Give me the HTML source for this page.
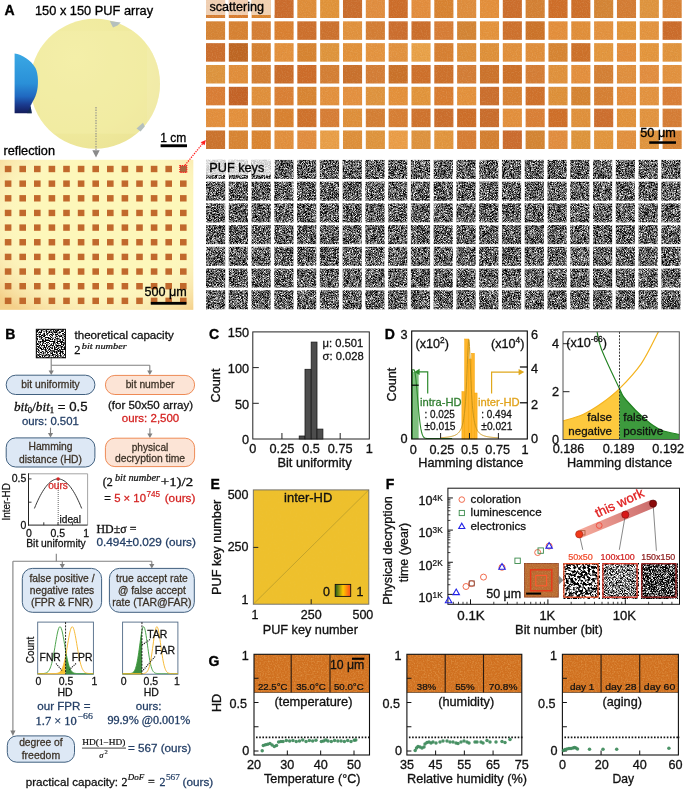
<!DOCTYPE html>
<html><head><meta charset="utf-8"><style>
html,body{margin:0;padding:0;background:#fff;width:685px;height:795px;overflow:hidden}
svg{display:block;will-change:transform}
</style></head><body>
<svg width="685" height="795" viewBox="0 0 685 795" font-family='"Liberation Sans", sans-serif'>
<defs>
<linearGradient id="blueg" x1="0" y1="0" x2="0" y2="1">
<stop offset="0" stop-color="#3aa8e4"/><stop offset="0.5" stop-color="#2a90d8"/><stop offset="0.72" stop-color="#2068c0"/><stop offset="0.86" stop-color="#1a3a8e"/><stop offset="1" stop-color="#141c5a"/></linearGradient>
<clipPath id="blueclip"><rect x="14.6" y="40" width="40" height="90"/></clipPath>
<radialGradient id="waferg" cx="0.35" cy="0.3" r="0.8">
<stop offset="0" stop-color="#f3eea6"/><stop offset="0.7" stop-color="#efe99c"/><stop offset="1" stop-color="#ebe395"/></radialGradient>
<clipPath id="wclip"><circle cx="95" cy="83.8" r="65"/></clipPath>
<radialGradient id="reflv" cx="0.55" cy="0.4" r="0.75">
<stop offset="0.55" stop-color="#fff" stop-opacity="0"/><stop offset="1" stop-color="#e89a48" stop-opacity="0.42"/></radialGradient>
<filter id="onoise" x="0" y="0" width="685" height="160" filterUnits="userSpaceOnUse">
<feTurbulence type="fractalNoise" baseFrequency="0.8" numOctaves="1" seed="4"/>
<feColorMatrix type="matrix" values="0 0 0 0 1  0 0 0 0 0.85  0 0 0 0 0.6  1.2 0 0 0 -0.55"/>
</filter>
<filter id="onoise2" x="0" y="0" width="685" height="160" filterUnits="userSpaceOnUse">
<feTurbulence type="fractalNoise" baseFrequency="0.9" numOctaves="2" seed="8"/>
<feColorMatrix type="matrix" values="0 0 0 0 0.45  0 0 0 0 0.18  0 0 0 0 0.05  -1.3 0 0 0 0.62"/>
</filter>
<clipPath id="oclip"><rect x="206.00" y="-0.50" width="19.1" height="18.5"/><rect x="228.83" y="-0.50" width="19.1" height="18.5"/><rect x="251.66" y="-0.50" width="19.1" height="18.5"/><rect x="274.49" y="-0.50" width="19.1" height="18.5"/><rect x="297.32" y="-0.50" width="19.1" height="18.5"/><rect x="320.15" y="-0.50" width="19.1" height="18.5"/><rect x="342.98" y="-0.50" width="19.1" height="18.5"/><rect x="365.81" y="-0.50" width="19.1" height="18.5"/><rect x="388.64" y="-0.50" width="19.1" height="18.5"/><rect x="411.47" y="-0.50" width="19.1" height="18.5"/><rect x="434.30" y="-0.50" width="19.1" height="18.5"/><rect x="457.13" y="-0.50" width="19.1" height="18.5"/><rect x="479.96" y="-0.50" width="19.1" height="18.5"/><rect x="502.79" y="-0.50" width="19.1" height="18.5"/><rect x="525.62" y="-0.50" width="19.1" height="18.5"/><rect x="548.45" y="-0.50" width="19.1" height="18.5"/><rect x="571.28" y="-0.50" width="19.1" height="18.5"/><rect x="594.11" y="-0.50" width="19.1" height="18.5"/><rect x="616.94" y="-0.50" width="19.1" height="18.5"/><rect x="639.77" y="-0.50" width="19.1" height="18.5"/><rect x="662.60" y="-0.50" width="19.1" height="18.5"/><rect x="206.00" y="21.33" width="19.1" height="18.5"/><rect x="228.83" y="21.33" width="19.1" height="18.5"/><rect x="251.66" y="21.33" width="19.1" height="18.5"/><rect x="274.49" y="21.33" width="19.1" height="18.5"/><rect x="297.32" y="21.33" width="19.1" height="18.5"/><rect x="320.15" y="21.33" width="19.1" height="18.5"/><rect x="342.98" y="21.33" width="19.1" height="18.5"/><rect x="365.81" y="21.33" width="19.1" height="18.5"/><rect x="388.64" y="21.33" width="19.1" height="18.5"/><rect x="411.47" y="21.33" width="19.1" height="18.5"/><rect x="434.30" y="21.33" width="19.1" height="18.5"/><rect x="457.13" y="21.33" width="19.1" height="18.5"/><rect x="479.96" y="21.33" width="19.1" height="18.5"/><rect x="502.79" y="21.33" width="19.1" height="18.5"/><rect x="525.62" y="21.33" width="19.1" height="18.5"/><rect x="548.45" y="21.33" width="19.1" height="18.5"/><rect x="571.28" y="21.33" width="19.1" height="18.5"/><rect x="594.11" y="21.33" width="19.1" height="18.5"/><rect x="616.94" y="21.33" width="19.1" height="18.5"/><rect x="639.77" y="21.33" width="19.1" height="18.5"/><rect x="662.60" y="21.33" width="19.1" height="18.5"/><rect x="206.00" y="43.16" width="19.1" height="18.5"/><rect x="228.83" y="43.16" width="19.1" height="18.5"/><rect x="251.66" y="43.16" width="19.1" height="18.5"/><rect x="274.49" y="43.16" width="19.1" height="18.5"/><rect x="297.32" y="43.16" width="19.1" height="18.5"/><rect x="320.15" y="43.16" width="19.1" height="18.5"/><rect x="342.98" y="43.16" width="19.1" height="18.5"/><rect x="365.81" y="43.16" width="19.1" height="18.5"/><rect x="388.64" y="43.16" width="19.1" height="18.5"/><rect x="411.47" y="43.16" width="19.1" height="18.5"/><rect x="434.30" y="43.16" width="19.1" height="18.5"/><rect x="457.13" y="43.16" width="19.1" height="18.5"/><rect x="479.96" y="43.16" width="19.1" height="18.5"/><rect x="502.79" y="43.16" width="19.1" height="18.5"/><rect x="525.62" y="43.16" width="19.1" height="18.5"/><rect x="548.45" y="43.16" width="19.1" height="18.5"/><rect x="571.28" y="43.16" width="19.1" height="18.5"/><rect x="594.11" y="43.16" width="19.1" height="18.5"/><rect x="616.94" y="43.16" width="19.1" height="18.5"/><rect x="639.77" y="43.16" width="19.1" height="18.5"/><rect x="662.60" y="43.16" width="19.1" height="18.5"/><rect x="206.00" y="64.99" width="19.1" height="18.5"/><rect x="228.83" y="64.99" width="19.1" height="18.5"/><rect x="251.66" y="64.99" width="19.1" height="18.5"/><rect x="274.49" y="64.99" width="19.1" height="18.5"/><rect x="297.32" y="64.99" width="19.1" height="18.5"/><rect x="320.15" y="64.99" width="19.1" height="18.5"/><rect x="342.98" y="64.99" width="19.1" height="18.5"/><rect x="365.81" y="64.99" width="19.1" height="18.5"/><rect x="388.64" y="64.99" width="19.1" height="18.5"/><rect x="411.47" y="64.99" width="19.1" height="18.5"/><rect x="434.30" y="64.99" width="19.1" height="18.5"/><rect x="457.13" y="64.99" width="19.1" height="18.5"/><rect x="479.96" y="64.99" width="19.1" height="18.5"/><rect x="502.79" y="64.99" width="19.1" height="18.5"/><rect x="525.62" y="64.99" width="19.1" height="18.5"/><rect x="548.45" y="64.99" width="19.1" height="18.5"/><rect x="571.28" y="64.99" width="19.1" height="18.5"/><rect x="594.11" y="64.99" width="19.1" height="18.5"/><rect x="616.94" y="64.99" width="19.1" height="18.5"/><rect x="639.77" y="64.99" width="19.1" height="18.5"/><rect x="662.60" y="64.99" width="19.1" height="18.5"/><rect x="206.00" y="86.82" width="19.1" height="18.5"/><rect x="228.83" y="86.82" width="19.1" height="18.5"/><rect x="251.66" y="86.82" width="19.1" height="18.5"/><rect x="274.49" y="86.82" width="19.1" height="18.5"/><rect x="297.32" y="86.82" width="19.1" height="18.5"/><rect x="320.15" y="86.82" width="19.1" height="18.5"/><rect x="342.98" y="86.82" width="19.1" height="18.5"/><rect x="365.81" y="86.82" width="19.1" height="18.5"/><rect x="388.64" y="86.82" width="19.1" height="18.5"/><rect x="411.47" y="86.82" width="19.1" height="18.5"/><rect x="434.30" y="86.82" width="19.1" height="18.5"/><rect x="457.13" y="86.82" width="19.1" height="18.5"/><rect x="479.96" y="86.82" width="19.1" height="18.5"/><rect x="502.79" y="86.82" width="19.1" height="18.5"/><rect x="525.62" y="86.82" width="19.1" height="18.5"/><rect x="548.45" y="86.82" width="19.1" height="18.5"/><rect x="571.28" y="86.82" width="19.1" height="18.5"/><rect x="594.11" y="86.82" width="19.1" height="18.5"/><rect x="616.94" y="86.82" width="19.1" height="18.5"/><rect x="639.77" y="86.82" width="19.1" height="18.5"/><rect x="662.60" y="86.82" width="19.1" height="18.5"/><rect x="206.00" y="108.65" width="19.1" height="18.5"/><rect x="228.83" y="108.65" width="19.1" height="18.5"/><rect x="251.66" y="108.65" width="19.1" height="18.5"/><rect x="274.49" y="108.65" width="19.1" height="18.5"/><rect x="297.32" y="108.65" width="19.1" height="18.5"/><rect x="320.15" y="108.65" width="19.1" height="18.5"/><rect x="342.98" y="108.65" width="19.1" height="18.5"/><rect x="365.81" y="108.65" width="19.1" height="18.5"/><rect x="388.64" y="108.65" width="19.1" height="18.5"/><rect x="411.47" y="108.65" width="19.1" height="18.5"/><rect x="434.30" y="108.65" width="19.1" height="18.5"/><rect x="457.13" y="108.65" width="19.1" height="18.5"/><rect x="479.96" y="108.65" width="19.1" height="18.5"/><rect x="502.79" y="108.65" width="19.1" height="18.5"/><rect x="525.62" y="108.65" width="19.1" height="18.5"/><rect x="548.45" y="108.65" width="19.1" height="18.5"/><rect x="571.28" y="108.65" width="19.1" height="18.5"/><rect x="594.11" y="108.65" width="19.1" height="18.5"/><rect x="616.94" y="108.65" width="19.1" height="18.5"/><rect x="639.77" y="108.65" width="19.1" height="18.5"/><rect x="662.60" y="108.65" width="19.1" height="18.5"/><rect x="206.00" y="130.48" width="19.1" height="18.5"/><rect x="228.83" y="130.48" width="19.1" height="18.5"/><rect x="251.66" y="130.48" width="19.1" height="18.5"/><rect x="274.49" y="130.48" width="19.1" height="18.5"/><rect x="297.32" y="130.48" width="19.1" height="18.5"/><rect x="320.15" y="130.48" width="19.1" height="18.5"/><rect x="342.98" y="130.48" width="19.1" height="18.5"/><rect x="365.81" y="130.48" width="19.1" height="18.5"/><rect x="388.64" y="130.48" width="19.1" height="18.5"/><rect x="411.47" y="130.48" width="19.1" height="18.5"/><rect x="434.30" y="130.48" width="19.1" height="18.5"/><rect x="457.13" y="130.48" width="19.1" height="18.5"/><rect x="479.96" y="130.48" width="19.1" height="18.5"/><rect x="502.79" y="130.48" width="19.1" height="18.5"/><rect x="525.62" y="130.48" width="19.1" height="18.5"/><rect x="548.45" y="130.48" width="19.1" height="18.5"/><rect x="571.28" y="130.48" width="19.1" height="18.5"/><rect x="594.11" y="130.48" width="19.1" height="18.5"/><rect x="616.94" y="130.48" width="19.1" height="18.5"/><rect x="639.77" y="130.48" width="19.1" height="18.5"/><rect x="662.60" y="130.48" width="19.1" height="18.5"/></clipPath>
<clipPath id="pclip"><rect x="206.00" y="159.90" width="19.2" height="19.1"/><rect x="228.76" y="159.90" width="19.2" height="19.1"/><rect x="251.53" y="159.90" width="19.2" height="19.1"/><rect x="274.30" y="159.90" width="19.2" height="19.1"/><rect x="297.06" y="159.90" width="19.2" height="19.1"/><rect x="319.82" y="159.90" width="19.2" height="19.1"/><rect x="342.59" y="159.90" width="19.2" height="19.1"/><rect x="365.36" y="159.90" width="19.2" height="19.1"/><rect x="388.12" y="159.90" width="19.2" height="19.1"/><rect x="410.88" y="159.90" width="19.2" height="19.1"/><rect x="433.65" y="159.90" width="19.2" height="19.1"/><rect x="456.42" y="159.90" width="19.2" height="19.1"/><rect x="479.18" y="159.90" width="19.2" height="19.1"/><rect x="501.94" y="159.90" width="19.2" height="19.1"/><rect x="524.71" y="159.90" width="19.2" height="19.1"/><rect x="547.48" y="159.90" width="19.2" height="19.1"/><rect x="570.24" y="159.90" width="19.2" height="19.1"/><rect x="593.00" y="159.90" width="19.2" height="19.1"/><rect x="615.77" y="159.90" width="19.2" height="19.1"/><rect x="638.54" y="159.90" width="19.2" height="19.1"/><rect x="661.30" y="159.90" width="19.2" height="19.1"/><rect x="206.00" y="181.62" width="19.2" height="19.1"/><rect x="228.76" y="181.62" width="19.2" height="19.1"/><rect x="251.53" y="181.62" width="19.2" height="19.1"/><rect x="274.30" y="181.62" width="19.2" height="19.1"/><rect x="297.06" y="181.62" width="19.2" height="19.1"/><rect x="319.82" y="181.62" width="19.2" height="19.1"/><rect x="342.59" y="181.62" width="19.2" height="19.1"/><rect x="365.36" y="181.62" width="19.2" height="19.1"/><rect x="388.12" y="181.62" width="19.2" height="19.1"/><rect x="410.88" y="181.62" width="19.2" height="19.1"/><rect x="433.65" y="181.62" width="19.2" height="19.1"/><rect x="456.42" y="181.62" width="19.2" height="19.1"/><rect x="479.18" y="181.62" width="19.2" height="19.1"/><rect x="501.94" y="181.62" width="19.2" height="19.1"/><rect x="524.71" y="181.62" width="19.2" height="19.1"/><rect x="547.48" y="181.62" width="19.2" height="19.1"/><rect x="570.24" y="181.62" width="19.2" height="19.1"/><rect x="593.00" y="181.62" width="19.2" height="19.1"/><rect x="615.77" y="181.62" width="19.2" height="19.1"/><rect x="638.54" y="181.62" width="19.2" height="19.1"/><rect x="661.30" y="181.62" width="19.2" height="19.1"/><rect x="206.00" y="203.34" width="19.2" height="19.1"/><rect x="228.76" y="203.34" width="19.2" height="19.1"/><rect x="251.53" y="203.34" width="19.2" height="19.1"/><rect x="274.30" y="203.34" width="19.2" height="19.1"/><rect x="297.06" y="203.34" width="19.2" height="19.1"/><rect x="319.82" y="203.34" width="19.2" height="19.1"/><rect x="342.59" y="203.34" width="19.2" height="19.1"/><rect x="365.36" y="203.34" width="19.2" height="19.1"/><rect x="388.12" y="203.34" width="19.2" height="19.1"/><rect x="410.88" y="203.34" width="19.2" height="19.1"/><rect x="433.65" y="203.34" width="19.2" height="19.1"/><rect x="456.42" y="203.34" width="19.2" height="19.1"/><rect x="479.18" y="203.34" width="19.2" height="19.1"/><rect x="501.94" y="203.34" width="19.2" height="19.1"/><rect x="524.71" y="203.34" width="19.2" height="19.1"/><rect x="547.48" y="203.34" width="19.2" height="19.1"/><rect x="570.24" y="203.34" width="19.2" height="19.1"/><rect x="593.00" y="203.34" width="19.2" height="19.1"/><rect x="615.77" y="203.34" width="19.2" height="19.1"/><rect x="638.54" y="203.34" width="19.2" height="19.1"/><rect x="661.30" y="203.34" width="19.2" height="19.1"/><rect x="206.00" y="225.06" width="19.2" height="19.1"/><rect x="228.76" y="225.06" width="19.2" height="19.1"/><rect x="251.53" y="225.06" width="19.2" height="19.1"/><rect x="274.30" y="225.06" width="19.2" height="19.1"/><rect x="297.06" y="225.06" width="19.2" height="19.1"/><rect x="319.82" y="225.06" width="19.2" height="19.1"/><rect x="342.59" y="225.06" width="19.2" height="19.1"/><rect x="365.36" y="225.06" width="19.2" height="19.1"/><rect x="388.12" y="225.06" width="19.2" height="19.1"/><rect x="410.88" y="225.06" width="19.2" height="19.1"/><rect x="433.65" y="225.06" width="19.2" height="19.1"/><rect x="456.42" y="225.06" width="19.2" height="19.1"/><rect x="479.18" y="225.06" width="19.2" height="19.1"/><rect x="501.94" y="225.06" width="19.2" height="19.1"/><rect x="524.71" y="225.06" width="19.2" height="19.1"/><rect x="547.48" y="225.06" width="19.2" height="19.1"/><rect x="570.24" y="225.06" width="19.2" height="19.1"/><rect x="593.00" y="225.06" width="19.2" height="19.1"/><rect x="615.77" y="225.06" width="19.2" height="19.1"/><rect x="638.54" y="225.06" width="19.2" height="19.1"/><rect x="661.30" y="225.06" width="19.2" height="19.1"/><rect x="206.00" y="246.78" width="19.2" height="19.1"/><rect x="228.76" y="246.78" width="19.2" height="19.1"/><rect x="251.53" y="246.78" width="19.2" height="19.1"/><rect x="274.30" y="246.78" width="19.2" height="19.1"/><rect x="297.06" y="246.78" width="19.2" height="19.1"/><rect x="319.82" y="246.78" width="19.2" height="19.1"/><rect x="342.59" y="246.78" width="19.2" height="19.1"/><rect x="365.36" y="246.78" width="19.2" height="19.1"/><rect x="388.12" y="246.78" width="19.2" height="19.1"/><rect x="410.88" y="246.78" width="19.2" height="19.1"/><rect x="433.65" y="246.78" width="19.2" height="19.1"/><rect x="456.42" y="246.78" width="19.2" height="19.1"/><rect x="479.18" y="246.78" width="19.2" height="19.1"/><rect x="501.94" y="246.78" width="19.2" height="19.1"/><rect x="524.71" y="246.78" width="19.2" height="19.1"/><rect x="547.48" y="246.78" width="19.2" height="19.1"/><rect x="570.24" y="246.78" width="19.2" height="19.1"/><rect x="593.00" y="246.78" width="19.2" height="19.1"/><rect x="615.77" y="246.78" width="19.2" height="19.1"/><rect x="638.54" y="246.78" width="19.2" height="19.1"/><rect x="661.30" y="246.78" width="19.2" height="19.1"/><rect x="206.00" y="268.50" width="19.2" height="19.1"/><rect x="228.76" y="268.50" width="19.2" height="19.1"/><rect x="251.53" y="268.50" width="19.2" height="19.1"/><rect x="274.30" y="268.50" width="19.2" height="19.1"/><rect x="297.06" y="268.50" width="19.2" height="19.1"/><rect x="319.82" y="268.50" width="19.2" height="19.1"/><rect x="342.59" y="268.50" width="19.2" height="19.1"/><rect x="365.36" y="268.50" width="19.2" height="19.1"/><rect x="388.12" y="268.50" width="19.2" height="19.1"/><rect x="410.88" y="268.50" width="19.2" height="19.1"/><rect x="433.65" y="268.50" width="19.2" height="19.1"/><rect x="456.42" y="268.50" width="19.2" height="19.1"/><rect x="479.18" y="268.50" width="19.2" height="19.1"/><rect x="501.94" y="268.50" width="19.2" height="19.1"/><rect x="524.71" y="268.50" width="19.2" height="19.1"/><rect x="547.48" y="268.50" width="19.2" height="19.1"/><rect x="570.24" y="268.50" width="19.2" height="19.1"/><rect x="593.00" y="268.50" width="19.2" height="19.1"/><rect x="615.77" y="268.50" width="19.2" height="19.1"/><rect x="638.54" y="268.50" width="19.2" height="19.1"/><rect x="661.30" y="268.50" width="19.2" height="19.1"/><rect x="206.00" y="290.22" width="19.2" height="19.1"/><rect x="228.76" y="290.22" width="19.2" height="19.1"/><rect x="251.53" y="290.22" width="19.2" height="19.1"/><rect x="274.30" y="290.22" width="19.2" height="19.1"/><rect x="297.06" y="290.22" width="19.2" height="19.1"/><rect x="319.82" y="290.22" width="19.2" height="19.1"/><rect x="342.59" y="290.22" width="19.2" height="19.1"/><rect x="365.36" y="290.22" width="19.2" height="19.1"/><rect x="388.12" y="290.22" width="19.2" height="19.1"/><rect x="410.88" y="290.22" width="19.2" height="19.1"/><rect x="433.65" y="290.22" width="19.2" height="19.1"/><rect x="456.42" y="290.22" width="19.2" height="19.1"/><rect x="479.18" y="290.22" width="19.2" height="19.1"/><rect x="501.94" y="290.22" width="19.2" height="19.1"/><rect x="524.71" y="290.22" width="19.2" height="19.1"/><rect x="547.48" y="290.22" width="19.2" height="19.1"/><rect x="570.24" y="290.22" width="19.2" height="19.1"/><rect x="593.00" y="290.22" width="19.2" height="19.1"/><rect x="615.77" y="290.22" width="19.2" height="19.1"/><rect x="638.54" y="290.22" width="19.2" height="19.1"/><rect x="661.30" y="290.22" width="19.2" height="19.1"/></clipPath>
<filter id="pnoise" x="200" y="155" width="485" height="160" filterUnits="userSpaceOnUse" color-interpolation-filters="sRGB">
<feTurbulence type="fractalNoise" baseFrequency="1.37" numOctaves="2" seed="11"/>
<feColorMatrix type="matrix" values="1 0 0 0 0  1 0 0 0 0  1 0 0 0 0  0 0 0 0 1"/>
<feComponentTransfer><feFuncR type="linear" slope="2.2" intercept="-0.71"/><feFuncG type="linear" slope="2.2" intercept="-0.71"/><feFuncB type="linear" slope="2.2" intercept="-0.71"/></feComponentTransfer>
<feGaussianBlur stdDeviation="0.4"/>
</filter>
<filter id="qnoise" x="36" y="329" width="30" height="29" filterUnits="userSpaceOnUse" color-interpolation-filters="sRGB">
<feTurbulence type="fractalNoise" baseFrequency="0.75" numOctaves="2" seed="5"/>
<feColorMatrix type="matrix" values="1 0 0 0 0  1 0 0 0 0  1 0 0 0 0  0 0 0 0 1"/>
<feComponentTransfer><feFuncR type="linear" slope="6" intercept="-2.6"/><feFuncG type="linear" slope="6" intercept="-2.6"/><feFuncB type="linear" slope="6" intercept="-2.6"/></feComponentTransfer>
<feGaussianBlur stdDeviation="0.3"/>
</filter>
<filter id="hnoise" x="253" y="489" width="117" height="116" filterUnits="userSpaceOnUse">
<feTurbulence type="fractalNoise" baseFrequency="0.5" numOctaves="1" seed="9"/>
<feColorMatrix type="matrix" values="0 0 0 0 0.8  0 0 0 0 0.6  0 0 0 0 0.1  1 0 0 0 -0.45"/>
</filter>
<linearGradient id="cbar" x1="0" y1="0" x2="1" y2="0">
<stop offset="0" stop-color="#1a5a1a"/><stop offset="0.5" stop-color="#ffc800"/><stop offset="1" stop-color="#ff4a1a"/></linearGradient>
<linearGradient id="band" gradientUnits="userSpaceOnUse" x1="579" y1="534" x2="653" y2="503.6">
<stop offset="0" stop-color="#f7a898"/><stop offset="1" stop-color="#c86464"/></linearGradient>
<filter id="inoise" x="524" y="563" width="35" height="35" filterUnits="userSpaceOnUse">
<feTurbulence type="fractalNoise" baseFrequency="0.8" numOctaves="1" seed="2"/>
<feColorMatrix type="matrix" values="0 0 0 0 0.95  0 0 0 0 0.7  0 0 0 0 0.4  1.4 0 0 0 -0.6"/>
</filter>
<filter id="fn21" x="563.3" y="563" width="36" height="36" filterUnits="userSpaceOnUse" color-interpolation-filters="sRGB">
<feTurbulence type="fractalNoise" baseFrequency="0.42" numOctaves="2" seed="21"/>
<feColorMatrix type="matrix" values="1 0 0 0 0  1 0 0 0 0  1 0 0 0 0  0 0 0 0 1"/>
<feComponentTransfer><feFuncR type="linear" slope="6" intercept="-2.55"/><feFuncG type="linear" slope="6" intercept="-2.55"/><feFuncB type="linear" slope="6" intercept="-2.55"/></feComponentTransfer>
</filter>
<filter id="fn22" x="602.3" y="563" width="36" height="36" filterUnits="userSpaceOnUse" color-interpolation-filters="sRGB">
<feTurbulence type="fractalNoise" baseFrequency="1.37" numOctaves="2" seed="22"/>
<feColorMatrix type="matrix" values="1 0 0 0 0  1 0 0 0 0  1 0 0 0 0  0 0 0 0 1"/>
<feComponentTransfer><feFuncR type="linear" slope="3.4" intercept="-1.15"/><feFuncG type="linear" slope="3.4" intercept="-1.15"/><feFuncB type="linear" slope="3.4" intercept="-1.15"/></feComponentTransfer>
</filter>
<filter id="fn23" x="641.2" y="563" width="36" height="36" filterUnits="userSpaceOnUse" color-interpolation-filters="sRGB">
<feTurbulence type="fractalNoise" baseFrequency="1.37" numOctaves="2" seed="23"/>
<feColorMatrix type="matrix" values="1 0 0 0 0  1 0 0 0 0  1 0 0 0 0  0 0 0 0 1"/>
<feComponentTransfer><feFuncR type="linear" slope="3.4" intercept="-1.45"/><feFuncG type="linear" slope="3.4" intercept="-1.45"/><feFuncB type="linear" slope="3.4" intercept="-1.45"/></feComponentTransfer>
</filter>
<filter id="gnoise" x="0" y="0" width="1" height="1">
<feTurbulence type="fractalNoise" baseFrequency="0.7" numOctaves="2" seed="13"/>
<feColorMatrix type="matrix" values="0 0 0 0 0.98  0 0 0 0 0.62  0 0 0 0 0.25  1.6 0 0 0 -0.66"/>
</filter>
<filter id="gnoise2" x="0" y="0" width="1" height="1">
<feTurbulence type="fractalNoise" baseFrequency="0.6" numOctaves="2" seed="17"/>
<feColorMatrix type="matrix" values="0 0 0 0 0.5  0 0 0 0 0.2  0 0 0 0 0.04  -1.6 0 0 0 0.66"/>
</filter>
</defs>
<text x="4.4" y="15.3" font-size="14" fill="#000" font-weight="bold"  stroke="#000" stroke-width="0.35">A</text>
<text x="35" y="14.9" font-size="12.8" fill="#000"  stroke="#000" stroke-width="0.32">150 x 150 PUF array</text>
<circle cx="95" cy="83.8" r="65" fill="url(#waferg)"/>
<rect x="39.7" y="30.8" width="107.3" height="103" fill="#f4efac" opacity="0.4" clip-path="url(#wclip)"/>
<rect x="147" y="15" width="20" height="140" fill="#f7f3be" opacity="0.4" clip-path="url(#wclip)"/>
<path d="M14.6 53.4 C22 54.5 31 60 35.5 68 C38.5 74 38.8 86 36.5 93 C35 98 32.5 102 30.5 105.5 L31.8 113.2 L14.6 113.2 Z" fill="url(#blueg)"/>
<path d="M36.5 93 C35 98 32.5 102 30.5 105.5 L31.8 113.2 L27 113.2 C30 108 33 101 36.5 93 Z" fill="#10304a" opacity="0.6"/>
<path d="M109.8 21.0 L120.7 22.6 L117.5 25.5 L113.0 27.5 Z" fill="#b5c0bd" stroke="none" stroke-width="1" />
<path d="M136.5 128.5 L143.0 122.8 L144.8 126.5 L140.5 131.5 Z" fill="#b5c0bd" stroke="none" stroke-width="1" />
<text x="160.2" y="141.5" font-size="12" fill="#000"  stroke="#000" stroke-width="0.30">1 cm</text>
<rect x="160.60" y="144.30" width="26.40" height="2.90" fill="#000" stroke="none" stroke-width="1" />
<text x="3.5" y="155.4" font-size="12.7" fill="#000"  stroke="#000" stroke-width="0.32">reflection</text>
<line x1="96.00" y1="107.00" x2="96.00" y2="151.00" stroke="#8a8a8a" stroke-width="1.1" stroke-dasharray="1.4 1.2"/>
<path d="M92.3 150.3 L99.7 150.3 L96 157.5 Z" fill="#8a8a8a" stroke="none" stroke-width="1" />
<rect x="0.00" y="159.80" width="193.30" height="150.00" fill="#fdf7ba" stroke="none" stroke-width="1" />
<rect x="0.00" y="159.80" width="193.30" height="150.00" fill="url(#reflv)" stroke="none" stroke-width="1" />
<rect x="4.80" y="165.80" width="6.60" height="6.40" fill="#c1692c" stroke="none" stroke-width="1" />
<rect x="19.40" y="165.80" width="6.60" height="6.40" fill="#c1692c" stroke="none" stroke-width="1" />
<rect x="34.00" y="165.80" width="6.60" height="6.40" fill="#c1692c" stroke="none" stroke-width="1" />
<rect x="48.60" y="165.80" width="6.60" height="6.40" fill="#c1692c" stroke="none" stroke-width="1" />
<rect x="63.20" y="165.80" width="6.60" height="6.40" fill="#c1692c" stroke="none" stroke-width="1" />
<rect x="77.80" y="165.80" width="6.60" height="6.40" fill="#c1692c" stroke="none" stroke-width="1" />
<rect x="92.40" y="165.80" width="6.60" height="6.40" fill="#c1692c" stroke="none" stroke-width="1" />
<rect x="107.00" y="165.80" width="6.60" height="6.40" fill="#c1692c" stroke="none" stroke-width="1" />
<rect x="121.60" y="165.80" width="6.60" height="6.40" fill="#c1692c" stroke="none" stroke-width="1" />
<rect x="136.20" y="165.80" width="6.60" height="6.40" fill="#c1692c" stroke="none" stroke-width="1" />
<rect x="150.80" y="165.80" width="6.60" height="6.40" fill="#c1692c" stroke="none" stroke-width="1" />
<rect x="165.40" y="165.80" width="6.60" height="6.40" fill="#c1692c" stroke="none" stroke-width="1" />
<rect x="180.00" y="165.80" width="6.60" height="6.40" fill="#c1692c" stroke="none" stroke-width="1" />
<rect x="4.80" y="180.45" width="6.60" height="6.40" fill="#c1692c" stroke="none" stroke-width="1" />
<rect x="19.40" y="180.45" width="6.60" height="6.40" fill="#c1692c" stroke="none" stroke-width="1" />
<rect x="34.00" y="180.45" width="6.60" height="6.40" fill="#c1692c" stroke="none" stroke-width="1" />
<rect x="48.60" y="180.45" width="6.60" height="6.40" fill="#c1692c" stroke="none" stroke-width="1" />
<rect x="63.20" y="180.45" width="6.60" height="6.40" fill="#c1692c" stroke="none" stroke-width="1" />
<rect x="77.80" y="180.45" width="6.60" height="6.40" fill="#c1692c" stroke="none" stroke-width="1" />
<rect x="92.40" y="180.45" width="6.60" height="6.40" fill="#c1692c" stroke="none" stroke-width="1" />
<rect x="107.00" y="180.45" width="6.60" height="6.40" fill="#c1692c" stroke="none" stroke-width="1" />
<rect x="121.60" y="180.45" width="6.60" height="6.40" fill="#c1692c" stroke="none" stroke-width="1" />
<rect x="136.20" y="180.45" width="6.60" height="6.40" fill="#c1692c" stroke="none" stroke-width="1" />
<rect x="150.80" y="180.45" width="6.60" height="6.40" fill="#c1692c" stroke="none" stroke-width="1" />
<rect x="165.40" y="180.45" width="6.60" height="6.40" fill="#c1692c" stroke="none" stroke-width="1" />
<rect x="180.00" y="180.45" width="6.60" height="6.40" fill="#c1692c" stroke="none" stroke-width="1" />
<rect x="4.80" y="195.10" width="6.60" height="6.40" fill="#c1692c" stroke="none" stroke-width="1" />
<rect x="19.40" y="195.10" width="6.60" height="6.40" fill="#c1692c" stroke="none" stroke-width="1" />
<rect x="34.00" y="195.10" width="6.60" height="6.40" fill="#c1692c" stroke="none" stroke-width="1" />
<rect x="48.60" y="195.10" width="6.60" height="6.40" fill="#c1692c" stroke="none" stroke-width="1" />
<rect x="63.20" y="195.10" width="6.60" height="6.40" fill="#c1692c" stroke="none" stroke-width="1" />
<rect x="77.80" y="195.10" width="6.60" height="6.40" fill="#c1692c" stroke="none" stroke-width="1" />
<rect x="92.40" y="195.10" width="6.60" height="6.40" fill="#c1692c" stroke="none" stroke-width="1" />
<rect x="107.00" y="195.10" width="6.60" height="6.40" fill="#c1692c" stroke="none" stroke-width="1" />
<rect x="121.60" y="195.10" width="6.60" height="6.40" fill="#c1692c" stroke="none" stroke-width="1" />
<rect x="136.20" y="195.10" width="6.60" height="6.40" fill="#c1692c" stroke="none" stroke-width="1" />
<rect x="150.80" y="195.10" width="6.60" height="6.40" fill="#c1692c" stroke="none" stroke-width="1" />
<rect x="165.40" y="195.10" width="6.60" height="6.40" fill="#c1692c" stroke="none" stroke-width="1" />
<rect x="180.00" y="195.10" width="6.60" height="6.40" fill="#c1692c" stroke="none" stroke-width="1" />
<rect x="4.80" y="209.75" width="6.60" height="6.40" fill="#c1692c" stroke="none" stroke-width="1" />
<rect x="19.40" y="209.75" width="6.60" height="6.40" fill="#c1692c" stroke="none" stroke-width="1" />
<rect x="34.00" y="209.75" width="6.60" height="6.40" fill="#c1692c" stroke="none" stroke-width="1" />
<rect x="48.60" y="209.75" width="6.60" height="6.40" fill="#c1692c" stroke="none" stroke-width="1" />
<rect x="63.20" y="209.75" width="6.60" height="6.40" fill="#c1692c" stroke="none" stroke-width="1" />
<rect x="77.80" y="209.75" width="6.60" height="6.40" fill="#c1692c" stroke="none" stroke-width="1" />
<rect x="92.40" y="209.75" width="6.60" height="6.40" fill="#c1692c" stroke="none" stroke-width="1" />
<rect x="107.00" y="209.75" width="6.60" height="6.40" fill="#c1692c" stroke="none" stroke-width="1" />
<rect x="121.60" y="209.75" width="6.60" height="6.40" fill="#c1692c" stroke="none" stroke-width="1" />
<rect x="136.20" y="209.75" width="6.60" height="6.40" fill="#c1692c" stroke="none" stroke-width="1" />
<rect x="150.80" y="209.75" width="6.60" height="6.40" fill="#c1692c" stroke="none" stroke-width="1" />
<rect x="165.40" y="209.75" width="6.60" height="6.40" fill="#c1692c" stroke="none" stroke-width="1" />
<rect x="180.00" y="209.75" width="6.60" height="6.40" fill="#c1692c" stroke="none" stroke-width="1" />
<rect x="4.80" y="224.40" width="6.60" height="6.40" fill="#c1692c" stroke="none" stroke-width="1" />
<rect x="19.40" y="224.40" width="6.60" height="6.40" fill="#c1692c" stroke="none" stroke-width="1" />
<rect x="34.00" y="224.40" width="6.60" height="6.40" fill="#c1692c" stroke="none" stroke-width="1" />
<rect x="48.60" y="224.40" width="6.60" height="6.40" fill="#c1692c" stroke="none" stroke-width="1" />
<rect x="63.20" y="224.40" width="6.60" height="6.40" fill="#c1692c" stroke="none" stroke-width="1" />
<rect x="77.80" y="224.40" width="6.60" height="6.40" fill="#c1692c" stroke="none" stroke-width="1" />
<rect x="92.40" y="224.40" width="6.60" height="6.40" fill="#c1692c" stroke="none" stroke-width="1" />
<rect x="107.00" y="224.40" width="6.60" height="6.40" fill="#c1692c" stroke="none" stroke-width="1" />
<rect x="121.60" y="224.40" width="6.60" height="6.40" fill="#c1692c" stroke="none" stroke-width="1" />
<rect x="136.20" y="224.40" width="6.60" height="6.40" fill="#c1692c" stroke="none" stroke-width="1" />
<rect x="150.80" y="224.40" width="6.60" height="6.40" fill="#c1692c" stroke="none" stroke-width="1" />
<rect x="165.40" y="224.40" width="6.60" height="6.40" fill="#c1692c" stroke="none" stroke-width="1" />
<rect x="180.00" y="224.40" width="6.60" height="6.40" fill="#c1692c" stroke="none" stroke-width="1" />
<rect x="4.80" y="239.05" width="6.60" height="6.40" fill="#c1692c" stroke="none" stroke-width="1" />
<rect x="19.40" y="239.05" width="6.60" height="6.40" fill="#c1692c" stroke="none" stroke-width="1" />
<rect x="34.00" y="239.05" width="6.60" height="6.40" fill="#c1692c" stroke="none" stroke-width="1" />
<rect x="48.60" y="239.05" width="6.60" height="6.40" fill="#c1692c" stroke="none" stroke-width="1" />
<rect x="63.20" y="239.05" width="6.60" height="6.40" fill="#c1692c" stroke="none" stroke-width="1" />
<rect x="77.80" y="239.05" width="6.60" height="6.40" fill="#c1692c" stroke="none" stroke-width="1" />
<rect x="92.40" y="239.05" width="6.60" height="6.40" fill="#c1692c" stroke="none" stroke-width="1" />
<rect x="107.00" y="239.05" width="6.60" height="6.40" fill="#c1692c" stroke="none" stroke-width="1" />
<rect x="121.60" y="239.05" width="6.60" height="6.40" fill="#c1692c" stroke="none" stroke-width="1" />
<rect x="136.20" y="239.05" width="6.60" height="6.40" fill="#c1692c" stroke="none" stroke-width="1" />
<rect x="150.80" y="239.05" width="6.60" height="6.40" fill="#c1692c" stroke="none" stroke-width="1" />
<rect x="165.40" y="239.05" width="6.60" height="6.40" fill="#c1692c" stroke="none" stroke-width="1" />
<rect x="180.00" y="239.05" width="6.60" height="6.40" fill="#c1692c" stroke="none" stroke-width="1" />
<rect x="4.80" y="253.70" width="6.60" height="6.40" fill="#c1692c" stroke="none" stroke-width="1" />
<rect x="19.40" y="253.70" width="6.60" height="6.40" fill="#c1692c" stroke="none" stroke-width="1" />
<rect x="34.00" y="253.70" width="6.60" height="6.40" fill="#c1692c" stroke="none" stroke-width="1" />
<rect x="48.60" y="253.70" width="6.60" height="6.40" fill="#c1692c" stroke="none" stroke-width="1" />
<rect x="63.20" y="253.70" width="6.60" height="6.40" fill="#c1692c" stroke="none" stroke-width="1" />
<rect x="77.80" y="253.70" width="6.60" height="6.40" fill="#c1692c" stroke="none" stroke-width="1" />
<rect x="92.40" y="253.70" width="6.60" height="6.40" fill="#c1692c" stroke="none" stroke-width="1" />
<rect x="107.00" y="253.70" width="6.60" height="6.40" fill="#c1692c" stroke="none" stroke-width="1" />
<rect x="121.60" y="253.70" width="6.60" height="6.40" fill="#c1692c" stroke="none" stroke-width="1" />
<rect x="136.20" y="253.70" width="6.60" height="6.40" fill="#c1692c" stroke="none" stroke-width="1" />
<rect x="150.80" y="253.70" width="6.60" height="6.40" fill="#c1692c" stroke="none" stroke-width="1" />
<rect x="165.40" y="253.70" width="6.60" height="6.40" fill="#c1692c" stroke="none" stroke-width="1" />
<rect x="180.00" y="253.70" width="6.60" height="6.40" fill="#c1692c" stroke="none" stroke-width="1" />
<rect x="4.80" y="268.35" width="6.60" height="6.40" fill="#c1692c" stroke="none" stroke-width="1" />
<rect x="19.40" y="268.35" width="6.60" height="6.40" fill="#c1692c" stroke="none" stroke-width="1" />
<rect x="34.00" y="268.35" width="6.60" height="6.40" fill="#c1692c" stroke="none" stroke-width="1" />
<rect x="48.60" y="268.35" width="6.60" height="6.40" fill="#c1692c" stroke="none" stroke-width="1" />
<rect x="63.20" y="268.35" width="6.60" height="6.40" fill="#c1692c" stroke="none" stroke-width="1" />
<rect x="77.80" y="268.35" width="6.60" height="6.40" fill="#c1692c" stroke="none" stroke-width="1" />
<rect x="92.40" y="268.35" width="6.60" height="6.40" fill="#c1692c" stroke="none" stroke-width="1" />
<rect x="107.00" y="268.35" width="6.60" height="6.40" fill="#c1692c" stroke="none" stroke-width="1" />
<rect x="121.60" y="268.35" width="6.60" height="6.40" fill="#c1692c" stroke="none" stroke-width="1" />
<rect x="136.20" y="268.35" width="6.60" height="6.40" fill="#c1692c" stroke="none" stroke-width="1" />
<rect x="150.80" y="268.35" width="6.60" height="6.40" fill="#c1692c" stroke="none" stroke-width="1" />
<rect x="165.40" y="268.35" width="6.60" height="6.40" fill="#c1692c" stroke="none" stroke-width="1" />
<rect x="180.00" y="268.35" width="6.60" height="6.40" fill="#c1692c" stroke="none" stroke-width="1" />
<rect x="4.80" y="283.00" width="6.60" height="6.40" fill="#c1692c" stroke="none" stroke-width="1" />
<rect x="19.40" y="283.00" width="6.60" height="6.40" fill="#c1692c" stroke="none" stroke-width="1" />
<rect x="34.00" y="283.00" width="6.60" height="6.40" fill="#c1692c" stroke="none" stroke-width="1" />
<rect x="48.60" y="283.00" width="6.60" height="6.40" fill="#c1692c" stroke="none" stroke-width="1" />
<rect x="63.20" y="283.00" width="6.60" height="6.40" fill="#c1692c" stroke="none" stroke-width="1" />
<rect x="77.80" y="283.00" width="6.60" height="6.40" fill="#c1692c" stroke="none" stroke-width="1" />
<rect x="92.40" y="283.00" width="6.60" height="6.40" fill="#c1692c" stroke="none" stroke-width="1" />
<rect x="107.00" y="283.00" width="6.60" height="6.40" fill="#c1692c" stroke="none" stroke-width="1" />
<rect x="121.60" y="283.00" width="6.60" height="6.40" fill="#c1692c" stroke="none" stroke-width="1" />
<rect x="136.20" y="283.00" width="6.60" height="6.40" fill="#c1692c" stroke="none" stroke-width="1" />
<rect x="150.80" y="283.00" width="6.60" height="6.40" fill="#c1692c" stroke="none" stroke-width="1" />
<rect x="165.40" y="283.00" width="6.60" height="6.40" fill="#c1692c" stroke="none" stroke-width="1" />
<rect x="180.00" y="283.00" width="6.60" height="6.40" fill="#c1692c" stroke="none" stroke-width="1" />
<rect x="4.80" y="297.65" width="6.60" height="6.40" fill="#c1692c" stroke="none" stroke-width="1" />
<rect x="19.40" y="297.65" width="6.60" height="6.40" fill="#c1692c" stroke="none" stroke-width="1" />
<rect x="34.00" y="297.65" width="6.60" height="6.40" fill="#c1692c" stroke="none" stroke-width="1" />
<rect x="48.60" y="297.65" width="6.60" height="6.40" fill="#c1692c" stroke="none" stroke-width="1" />
<rect x="63.20" y="297.65" width="6.60" height="6.40" fill="#c1692c" stroke="none" stroke-width="1" />
<rect x="77.80" y="297.65" width="6.60" height="6.40" fill="#c1692c" stroke="none" stroke-width="1" />
<rect x="92.40" y="297.65" width="6.60" height="6.40" fill="#c1692c" stroke="none" stroke-width="1" />
<rect x="107.00" y="297.65" width="6.60" height="6.40" fill="#c1692c" stroke="none" stroke-width="1" />
<rect x="121.60" y="297.65" width="6.60" height="6.40" fill="#c1692c" stroke="none" stroke-width="1" />
<rect x="136.20" y="297.65" width="6.60" height="6.40" fill="#c1692c" stroke="none" stroke-width="1" />
<rect x="150.80" y="297.65" width="6.60" height="6.40" fill="#c1692c" stroke="none" stroke-width="1" />
<rect x="165.40" y="297.65" width="6.60" height="6.40" fill="#c1692c" stroke="none" stroke-width="1" />
<rect x="180.00" y="297.65" width="6.60" height="6.40" fill="#c1692c" stroke="none" stroke-width="1" />
<rect x="180.00" y="165.80" width="6.60" height="6.40" fill="#a8683e" stroke="none" stroke-width="1" />
<rect x="179.80" y="165.60" width="7.00" height="6.80" fill="none" stroke="#ff1a1a" stroke-width="1.1" stroke-dasharray="1.2 0.9"/>
<text x="144.5" y="296.3" font-size="12.6" fill="#000"  stroke="#000" stroke-width="0.32">500 μm</text>
<rect x="150.80" y="301.90" width="35.60" height="2.80" fill="#000" stroke="none" stroke-width="1" />
<rect x="206.00" y="-0.50" width="19.10" height="18.50" fill="rgb(213,126,51)" stroke="none" stroke-width="1" />
<rect x="228.83" y="-0.50" width="19.10" height="18.50" fill="rgb(216,124,48)" stroke="none" stroke-width="1" />
<rect x="251.66" y="-0.50" width="19.10" height="18.50" fill="rgb(217,132,48)" stroke="none" stroke-width="1" />
<rect x="274.49" y="-0.50" width="19.10" height="18.50" fill="rgb(202,107,44)" stroke="none" stroke-width="1" />
<rect x="297.32" y="-0.50" width="19.10" height="18.50" fill="rgb(222,141,57)" stroke="none" stroke-width="1" />
<rect x="320.15" y="-0.50" width="19.10" height="18.50" fill="rgb(224,147,57)" stroke="none" stroke-width="1" />
<rect x="342.98" y="-0.50" width="19.10" height="18.50" fill="rgb(201,108,44)" stroke="none" stroke-width="1" />
<rect x="365.81" y="-0.50" width="19.10" height="18.50" fill="rgb(224,141,63)" stroke="none" stroke-width="1" />
<rect x="388.64" y="-0.50" width="19.10" height="18.50" fill="rgb(204,108,41)" stroke="none" stroke-width="1" />
<rect x="411.47" y="-0.50" width="19.10" height="18.50" fill="rgb(226,141,61)" stroke="none" stroke-width="1" />
<rect x="434.30" y="-0.50" width="19.10" height="18.50" fill="rgb(215,130,48)" stroke="none" stroke-width="1" />
<rect x="457.13" y="-0.50" width="19.10" height="18.50" fill="rgb(222,141,61)" stroke="none" stroke-width="1" />
<rect x="479.96" y="-0.50" width="19.10" height="18.50" fill="rgb(227,143,59)" stroke="none" stroke-width="1" />
<rect x="502.79" y="-0.50" width="19.10" height="18.50" fill="rgb(203,109,44)" stroke="none" stroke-width="1" />
<rect x="525.62" y="-0.50" width="19.10" height="18.50" fill="rgb(211,128,52)" stroke="none" stroke-width="1" />
<rect x="548.45" y="-0.50" width="19.10" height="18.50" fill="rgb(206,109,40)" stroke="none" stroke-width="1" />
<rect x="571.28" y="-0.50" width="19.10" height="18.50" fill="rgb(204,110,42)" stroke="none" stroke-width="1" />
<rect x="594.11" y="-0.50" width="19.10" height="18.50" fill="rgb(211,132,53)" stroke="none" stroke-width="1" />
<rect x="616.94" y="-0.50" width="19.10" height="18.50" fill="rgb(211,124,52)" stroke="none" stroke-width="1" />
<rect x="639.77" y="-0.50" width="19.10" height="18.50" fill="rgb(222,148,62)" stroke="none" stroke-width="1" />
<rect x="662.60" y="-0.50" width="19.10" height="18.50" fill="rgb(215,130,54)" stroke="none" stroke-width="1" />
<rect x="206.00" y="21.33" width="19.10" height="18.50" fill="rgb(213,131,52)" stroke="none" stroke-width="1" />
<rect x="228.83" y="21.33" width="19.10" height="18.50" fill="rgb(214,129,50)" stroke="none" stroke-width="1" />
<rect x="251.66" y="21.33" width="19.10" height="18.50" fill="rgb(212,126,53)" stroke="none" stroke-width="1" />
<rect x="274.49" y="21.33" width="19.10" height="18.50" fill="rgb(217,127,48)" stroke="none" stroke-width="1" />
<rect x="297.32" y="21.33" width="19.10" height="18.50" fill="rgb(204,111,44)" stroke="none" stroke-width="1" />
<rect x="320.15" y="21.33" width="19.10" height="18.50" fill="rgb(203,112,45)" stroke="none" stroke-width="1" />
<rect x="342.98" y="21.33" width="19.10" height="18.50" fill="rgb(224,145,61)" stroke="none" stroke-width="1" />
<rect x="365.81" y="21.33" width="19.10" height="18.50" fill="rgb(211,125,52)" stroke="none" stroke-width="1" />
<rect x="388.64" y="21.33" width="19.10" height="18.50" fill="rgb(203,109,46)" stroke="none" stroke-width="1" />
<rect x="411.47" y="21.33" width="19.10" height="18.50" fill="rgb(202,109,43)" stroke="none" stroke-width="1" />
<rect x="434.30" y="21.33" width="19.10" height="18.50" fill="rgb(214,124,53)" stroke="none" stroke-width="1" />
<rect x="457.13" y="21.33" width="19.10" height="18.50" fill="rgb(211,132,52)" stroke="none" stroke-width="1" />
<rect x="479.96" y="21.33" width="19.10" height="18.50" fill="rgb(227,146,59)" stroke="none" stroke-width="1" />
<rect x="502.79" y="21.33" width="19.10" height="18.50" fill="rgb(205,112,44)" stroke="none" stroke-width="1" />
<rect x="525.62" y="21.33" width="19.10" height="18.50" fill="rgb(203,114,40)" stroke="none" stroke-width="1" />
<rect x="548.45" y="21.33" width="19.10" height="18.50" fill="rgb(227,142,59)" stroke="none" stroke-width="1" />
<rect x="571.28" y="21.33" width="19.10" height="18.50" fill="rgb(224,142,57)" stroke="none" stroke-width="1" />
<rect x="594.11" y="21.33" width="19.10" height="18.50" fill="rgb(226,145,62)" stroke="none" stroke-width="1" />
<rect x="616.94" y="21.33" width="19.10" height="18.50" fill="rgb(225,148,59)" stroke="none" stroke-width="1" />
<rect x="639.77" y="21.33" width="19.10" height="18.50" fill="rgb(226,147,62)" stroke="none" stroke-width="1" />
<rect x="662.60" y="21.33" width="19.10" height="18.50" fill="rgb(202,107,43)" stroke="none" stroke-width="1" />
<rect x="206.00" y="43.16" width="19.10" height="18.50" fill="rgb(202,109,44)" stroke="none" stroke-width="1" />
<rect x="228.83" y="43.16" width="19.10" height="18.50" fill="rgb(189,101,34)" stroke="none" stroke-width="1" />
<rect x="251.66" y="43.16" width="19.10" height="18.50" fill="rgb(212,128,49)" stroke="none" stroke-width="1" />
<rect x="274.49" y="43.16" width="19.10" height="18.50" fill="rgb(226,144,60)" stroke="none" stroke-width="1" />
<rect x="297.32" y="43.16" width="19.10" height="18.50" fill="rgb(214,131,48)" stroke="none" stroke-width="1" />
<rect x="320.15" y="43.16" width="19.10" height="18.50" fill="rgb(222,148,60)" stroke="none" stroke-width="1" />
<rect x="342.98" y="43.16" width="19.10" height="18.50" fill="rgb(225,145,58)" stroke="none" stroke-width="1" />
<rect x="365.81" y="43.16" width="19.10" height="18.50" fill="rgb(227,147,63)" stroke="none" stroke-width="1" />
<rect x="388.64" y="43.16" width="19.10" height="18.50" fill="rgb(225,145,62)" stroke="none" stroke-width="1" />
<rect x="411.47" y="43.16" width="19.10" height="18.50" fill="rgb(232,161,72)" stroke="none" stroke-width="1" />
<rect x="434.30" y="43.16" width="19.10" height="18.50" fill="rgb(214,127,49)" stroke="none" stroke-width="1" />
<rect x="457.13" y="43.16" width="19.10" height="18.50" fill="rgb(221,143,58)" stroke="none" stroke-width="1" />
<rect x="479.96" y="43.16" width="19.10" height="18.50" fill="rgb(222,144,57)" stroke="none" stroke-width="1" />
<rect x="502.79" y="43.16" width="19.10" height="18.50" fill="rgb(224,143,59)" stroke="none" stroke-width="1" />
<rect x="525.62" y="43.16" width="19.10" height="18.50" fill="rgb(223,141,58)" stroke="none" stroke-width="1" />
<rect x="548.45" y="43.16" width="19.10" height="18.50" fill="rgb(214,132,50)" stroke="none" stroke-width="1" />
<rect x="571.28" y="43.16" width="19.10" height="18.50" fill="rgb(204,112,41)" stroke="none" stroke-width="1" />
<rect x="594.11" y="43.16" width="19.10" height="18.50" fill="rgb(226,149,61)" stroke="none" stroke-width="1" />
<rect x="616.94" y="43.16" width="19.10" height="18.50" fill="rgb(226,141,60)" stroke="none" stroke-width="1" />
<rect x="639.77" y="43.16" width="19.10" height="18.50" fill="rgb(227,149,60)" stroke="none" stroke-width="1" />
<rect x="662.60" y="43.16" width="19.10" height="18.50" fill="rgb(224,147,60)" stroke="none" stroke-width="1" />
<rect x="206.00" y="64.99" width="19.10" height="18.50" fill="rgb(221,148,62)" stroke="none" stroke-width="1" />
<rect x="228.83" y="64.99" width="19.10" height="18.50" fill="rgb(224,141,58)" stroke="none" stroke-width="1" />
<rect x="251.66" y="64.99" width="19.10" height="18.50" fill="rgb(211,127,51)" stroke="none" stroke-width="1" />
<rect x="274.49" y="64.99" width="19.10" height="18.50" fill="rgb(201,108,42)" stroke="none" stroke-width="1" />
<rect x="297.32" y="64.99" width="19.10" height="18.50" fill="rgb(204,107,40)" stroke="none" stroke-width="1" />
<rect x="320.15" y="64.99" width="19.10" height="18.50" fill="rgb(211,126,52)" stroke="none" stroke-width="1" />
<rect x="342.98" y="64.99" width="19.10" height="18.50" fill="rgb(200,112,44)" stroke="none" stroke-width="1" />
<rect x="365.81" y="64.99" width="19.10" height="18.50" fill="rgb(211,125,54)" stroke="none" stroke-width="1" />
<rect x="388.64" y="64.99" width="19.10" height="18.50" fill="rgb(201,113,41)" stroke="none" stroke-width="1" />
<rect x="411.47" y="64.99" width="19.10" height="18.50" fill="rgb(205,111,42)" stroke="none" stroke-width="1" />
<rect x="434.30" y="64.99" width="19.10" height="18.50" fill="rgb(204,112,43)" stroke="none" stroke-width="1" />
<rect x="457.13" y="64.99" width="19.10" height="18.50" fill="rgb(211,125,54)" stroke="none" stroke-width="1" />
<rect x="479.96" y="64.99" width="19.10" height="18.50" fill="rgb(203,114,43)" stroke="none" stroke-width="1" />
<rect x="502.79" y="64.99" width="19.10" height="18.50" fill="rgb(203,111,40)" stroke="none" stroke-width="1" />
<rect x="525.62" y="64.99" width="19.10" height="18.50" fill="rgb(212,125,53)" stroke="none" stroke-width="1" />
<rect x="548.45" y="64.99" width="19.10" height="18.50" fill="rgb(223,145,60)" stroke="none" stroke-width="1" />
<rect x="571.28" y="64.99" width="19.10" height="18.50" fill="rgb(227,143,61)" stroke="none" stroke-width="1" />
<rect x="594.11" y="64.99" width="19.10" height="18.50" fill="rgb(211,127,52)" stroke="none" stroke-width="1" />
<rect x="616.94" y="64.99" width="19.10" height="18.50" fill="rgb(223,143,62)" stroke="none" stroke-width="1" />
<rect x="639.77" y="64.99" width="19.10" height="18.50" fill="rgb(225,141,63)" stroke="none" stroke-width="1" />
<rect x="662.60" y="64.99" width="19.10" height="18.50" fill="rgb(225,145,62)" stroke="none" stroke-width="1" />
<rect x="206.00" y="86.82" width="19.10" height="18.50" fill="rgb(217,125,53)" stroke="none" stroke-width="1" />
<rect x="228.83" y="86.82" width="19.10" height="18.50" fill="rgb(195,98,38)" stroke="none" stroke-width="1" />
<rect x="251.66" y="86.82" width="19.10" height="18.50" fill="rgb(223,143,59)" stroke="none" stroke-width="1" />
<rect x="274.49" y="86.82" width="19.10" height="18.50" fill="rgb(217,127,52)" stroke="none" stroke-width="1" />
<rect x="297.32" y="86.82" width="19.10" height="18.50" fill="rgb(215,132,50)" stroke="none" stroke-width="1" />
<rect x="320.15" y="86.82" width="19.10" height="18.50" fill="rgb(226,144,61)" stroke="none" stroke-width="1" />
<rect x="342.98" y="86.82" width="19.10" height="18.50" fill="rgb(227,144,63)" stroke="none" stroke-width="1" />
<rect x="365.81" y="86.82" width="19.10" height="18.50" fill="rgb(222,147,62)" stroke="none" stroke-width="1" />
<rect x="388.64" y="86.82" width="19.10" height="18.50" fill="rgb(227,144,58)" stroke="none" stroke-width="1" />
<rect x="411.47" y="86.82" width="19.10" height="18.50" fill="rgb(225,148,59)" stroke="none" stroke-width="1" />
<rect x="434.30" y="86.82" width="19.10" height="18.50" fill="rgb(216,124,48)" stroke="none" stroke-width="1" />
<rect x="457.13" y="86.82" width="19.10" height="18.50" fill="rgb(227,145,60)" stroke="none" stroke-width="1" />
<rect x="479.96" y="86.82" width="19.10" height="18.50" fill="rgb(202,110,45)" stroke="none" stroke-width="1" />
<rect x="502.79" y="86.82" width="19.10" height="18.50" fill="rgb(215,129,51)" stroke="none" stroke-width="1" />
<rect x="525.62" y="86.82" width="19.10" height="18.50" fill="rgb(206,112,42)" stroke="none" stroke-width="1" />
<rect x="548.45" y="86.82" width="19.10" height="18.50" fill="rgb(221,144,57)" stroke="none" stroke-width="1" />
<rect x="571.28" y="86.82" width="19.10" height="18.50" fill="rgb(212,131,49)" stroke="none" stroke-width="1" />
<rect x="594.11" y="86.82" width="19.10" height="18.50" fill="rgb(213,127,51)" stroke="none" stroke-width="1" />
<rect x="616.94" y="86.82" width="19.10" height="18.50" fill="rgb(225,141,60)" stroke="none" stroke-width="1" />
<rect x="639.77" y="86.82" width="19.10" height="18.50" fill="rgb(226,146,63)" stroke="none" stroke-width="1" />
<rect x="662.60" y="86.82" width="19.10" height="18.50" fill="rgb(216,125,54)" stroke="none" stroke-width="1" />
<rect x="206.00" y="108.65" width="19.10" height="18.50" fill="rgb(226,142,60)" stroke="none" stroke-width="1" />
<rect x="228.83" y="108.65" width="19.10" height="18.50" fill="rgb(227,144,60)" stroke="none" stroke-width="1" />
<rect x="251.66" y="108.65" width="19.10" height="18.50" fill="rgb(212,130,54)" stroke="none" stroke-width="1" />
<rect x="274.49" y="108.65" width="19.10" height="18.50" fill="rgb(216,129,48)" stroke="none" stroke-width="1" />
<rect x="297.32" y="108.65" width="19.10" height="18.50" fill="rgb(206,113,43)" stroke="none" stroke-width="1" />
<rect x="320.15" y="108.65" width="19.10" height="18.50" fill="rgb(214,125,53)" stroke="none" stroke-width="1" />
<rect x="342.98" y="108.65" width="19.10" height="18.50" fill="rgb(222,143,58)" stroke="none" stroke-width="1" />
<rect x="365.81" y="108.65" width="19.10" height="18.50" fill="rgb(211,126,52)" stroke="none" stroke-width="1" />
<rect x="388.64" y="108.65" width="19.10" height="18.50" fill="rgb(214,126,52)" stroke="none" stroke-width="1" />
<rect x="411.47" y="108.65" width="19.10" height="18.50" fill="rgb(206,114,45)" stroke="none" stroke-width="1" />
<rect x="434.30" y="108.65" width="19.10" height="18.50" fill="rgb(202,109,44)" stroke="none" stroke-width="1" />
<rect x="457.13" y="108.65" width="19.10" height="18.50" fill="rgb(204,109,40)" stroke="none" stroke-width="1" />
<rect x="479.96" y="108.65" width="19.10" height="18.50" fill="rgb(200,108,44)" stroke="none" stroke-width="1" />
<rect x="502.79" y="108.65" width="19.10" height="18.50" fill="rgb(226,143,60)" stroke="none" stroke-width="1" />
<rect x="525.62" y="108.65" width="19.10" height="18.50" fill="rgb(217,127,54)" stroke="none" stroke-width="1" />
<rect x="548.45" y="108.65" width="19.10" height="18.50" fill="rgb(206,110,40)" stroke="none" stroke-width="1" />
<rect x="571.28" y="108.65" width="19.10" height="18.50" fill="rgb(223,144,59)" stroke="none" stroke-width="1" />
<rect x="594.11" y="108.65" width="19.10" height="18.50" fill="rgb(204,110,46)" stroke="none" stroke-width="1" />
<rect x="616.94" y="108.65" width="19.10" height="18.50" fill="rgb(225,146,59)" stroke="none" stroke-width="1" />
<rect x="639.77" y="108.65" width="19.10" height="18.50" fill="rgb(225,147,63)" stroke="none" stroke-width="1" />
<rect x="662.60" y="108.65" width="19.10" height="18.50" fill="rgb(212,124,53)" stroke="none" stroke-width="1" />
<rect x="206.00" y="130.48" width="19.10" height="18.50" fill="rgb(202,114,45)" stroke="none" stroke-width="1" />
<rect x="228.83" y="130.48" width="19.10" height="18.50" fill="rgb(215,132,51)" stroke="none" stroke-width="1" />
<rect x="251.66" y="130.48" width="19.10" height="18.50" fill="rgb(217,132,49)" stroke="none" stroke-width="1" />
<rect x="274.49" y="130.48" width="19.10" height="18.50" fill="rgb(225,143,61)" stroke="none" stroke-width="1" />
<rect x="297.32" y="130.48" width="19.10" height="18.50" fill="rgb(225,141,63)" stroke="none" stroke-width="1" />
<rect x="320.15" y="130.48" width="19.10" height="18.50" fill="rgb(232,158,71)" stroke="none" stroke-width="1" />
<rect x="342.98" y="130.48" width="19.10" height="18.50" fill="rgb(221,143,58)" stroke="none" stroke-width="1" />
<rect x="365.81" y="130.48" width="19.10" height="18.50" fill="rgb(222,148,61)" stroke="none" stroke-width="1" />
<rect x="388.64" y="130.48" width="19.10" height="18.50" fill="rgb(234,157,71)" stroke="none" stroke-width="1" />
<rect x="411.47" y="130.48" width="19.10" height="18.50" fill="rgb(221,146,62)" stroke="none" stroke-width="1" />
<rect x="434.30" y="130.48" width="19.10" height="18.50" fill="rgb(225,149,61)" stroke="none" stroke-width="1" />
<rect x="457.13" y="130.48" width="19.10" height="18.50" fill="rgb(214,125,52)" stroke="none" stroke-width="1" />
<rect x="479.96" y="130.48" width="19.10" height="18.50" fill="rgb(211,127,49)" stroke="none" stroke-width="1" />
<rect x="502.79" y="130.48" width="19.10" height="18.50" fill="rgb(202,107,46)" stroke="none" stroke-width="1" />
<rect x="525.62" y="130.48" width="19.10" height="18.50" fill="rgb(211,132,51)" stroke="none" stroke-width="1" />
<rect x="548.45" y="130.48" width="19.10" height="18.50" fill="rgb(225,141,63)" stroke="none" stroke-width="1" />
<rect x="571.28" y="130.48" width="19.10" height="18.50" fill="rgb(221,148,59)" stroke="none" stroke-width="1" />
<rect x="594.11" y="130.48" width="19.10" height="18.50" fill="rgb(225,149,61)" stroke="none" stroke-width="1" />
<rect x="616.94" y="130.48" width="19.10" height="18.50" fill="rgb(225,144,62)" stroke="none" stroke-width="1" />
<rect x="639.77" y="130.48" width="19.10" height="18.50" fill="rgb(223,148,61)" stroke="none" stroke-width="1" />
<rect x="662.60" y="130.48" width="19.10" height="18.50" fill="rgb(215,131,52)" stroke="none" stroke-width="1" />
<rect x="200" y="0" width="485" height="155" filter="url(#onoise)" clip-path="url(#oclip)" opacity="0.35"/>
<rect x="200" y="0" width="485" height="155" filter="url(#onoise2)" clip-path="url(#oclip)" opacity="0.45"/>
<g clip-path="url(#oclip)"><rect x="205" y="0" width="70" height="15" fill="#fff" opacity="0.62"/></g>
<text x="209.5" y="11.4" font-size="12.6" fill="#000"  stroke="#000" stroke-width="0.32">scattering</text>
<text x="640.3" y="137" font-size="12.7" fill="#000"  stroke="#000" stroke-width="0.32">50 μm</text>
<rect x="649.20" y="141.30" width="26.80" height="2.50" fill="#000" stroke="none" stroke-width="1" />
<rect x="200" y="155" width="485" height="160" filter="url(#pnoise)" clip-path="url(#pclip)"/>
<g clip-path="url(#pclip)"><rect x="205" y="159" width="70" height="16" fill="#fff" opacity="0.76"/></g>
<text x="209.3" y="172" font-size="12.7" fill="#000"  stroke="#000" stroke-width="0.32">PUF keys</text>
<line x1="185.00" y1="165.20" x2="202.60" y2="143.60" stroke="#ff1e1e" stroke-width="1.3" stroke-dasharray="1.3 1.1"/>
<path d="M205.9 140.0 L200.6 142.2 L204.6 145.2 Z" fill="#ff1e1e" stroke="none" stroke-width="1" />
<text x="5.3" y="339.2" font-size="14" fill="#000" font-weight="bold"  stroke="#000" stroke-width="0.35">B</text>
<rect x="36" y="329" width="30" height="29" filter="url(#qnoise)"/>
<rect x="36.30" y="329.30" width="29.20" height="28.50" fill="none" stroke="#111" stroke-width="1" />
<text x="74.5" y="339" font-size="11.6" fill="#111" textLength="99.2" lengthAdjust="spacingAndGlyphs" stroke="#111" stroke-width="0.29">theoretical capacity</text>
<text x="74.3" y="354.0" font-size="12.6" fill="#111" font-family='"Liberation Serif", serif'  stroke="#111" stroke-width="0.32">2</text>
<text x="81.8" y="348.8" font-size="9.2" fill="#111" font-family='"Liberation Serif", serif' font-style="italic" textLength="45.0" lengthAdjust="spacingAndGlyphs" stroke="#111" stroke-width="0.23">bit number</text>
<line x1="51.20" y1="358.00" x2="51.20" y2="365.30" stroke="#7f7f7f" stroke-width="1.1" />
<line x1="51.20" y1="365.30" x2="149.80" y2="365.30" stroke="#7f7f7f" stroke-width="1.1" />
<line x1="51.20" y1="365.30" x2="51.20" y2="371.00" stroke="#7f7f7f" stroke-width="1.1" />
<path d="M48.6 370.5 L53.800000000000004 370.5 L51.2 375 Z" fill="#7f7f7f" stroke="none" stroke-width="1" />
<line x1="149.80" y1="365.30" x2="149.80" y2="371.00" stroke="#7f7f7f" stroke-width="1.1" />
<path d="M147.20000000000002 370.5 L152.4 370.5 L149.8 375 Z" fill="#7f7f7f" stroke="none" stroke-width="1" />
<rect x="6.2" y="375.2" width="88.7" height="19.30000000000001" rx="9.5" ry="9.5" fill="#dde8f5" stroke="#41607f" stroke-width="1"/>
<text x="50.5" y="388.4" font-size="10.3" fill="#3b3126" text-anchor="middle" textLength="58.4" lengthAdjust="spacingAndGlyphs" stroke="#3b3126" stroke-width="0.26">bit uniformity</text>
<rect x="105.4" y="375.4" width="89.19999999999999" height="19.100000000000023" rx="9.5" ry="9.5" fill="#fce4d6" stroke="#ee8a55" stroke-width="1"/>
<text x="150" y="388.4" font-size="10.3" fill="#3b3126" text-anchor="middle" textLength="48.7" lengthAdjust="spacingAndGlyphs" stroke="#3b3126" stroke-width="0.26">bit number</text>
<text x='13.9' y='410.9' font-size='12.2' fill='#111' font-family='"Liberation Serif", serif' textLength='73.7' lengthAdjust='spacingAndGlyphs' stroke="#111" stroke-width="0.30"><tspan font-style='italic'>bit</tspan><tspan font-size='8' dy='2.5'>0</tspan><tspan dy='-2.5'>/</tspan><tspan font-style='italic'>bit</tspan><tspan font-size='8' dy='2.5'>1</tspan><tspan dy='-2.5' font-family='"Liberation Sans", sans-serif'> = 0.5</tspan></text>
<text x="50.4" y="424.6" font-size="11.4" fill="#243f66" text-anchor="middle" textLength="56.9" lengthAdjust="spacingAndGlyphs" stroke="#243f66" stroke-width="0.29">ours: 0.501</text>
<text x="150.5" y="409.1" font-size="11.5" fill="#111" text-anchor="middle" textLength="85" lengthAdjust="spacingAndGlyphs" stroke="#111" stroke-width="0.29">(for 50x50 array)</text>
<text x="150.5" y="422.4" font-size="11.5" fill="#d42322" text-anchor="middle" textLength="57.5" lengthAdjust="spacingAndGlyphs" stroke="#d42322" stroke-width="0.29">ours: 2,500</text>
<line x1="50.50" y1="427.70" x2="50.50" y2="433.50" stroke="#7f7f7f" stroke-width="1.1" />
<path d="M47.9 433.0 L53.1 433.0 L50.5 437.5 Z" fill="#7f7f7f" stroke="none" stroke-width="1" />
<line x1="149.90" y1="428.20" x2="149.90" y2="434.00" stroke="#7f7f7f" stroke-width="1.1" />
<path d="M147.3 433.5 L152.5 433.5 L149.9 438 Z" fill="#7f7f7f" stroke="none" stroke-width="1" />
<rect x="6.2" y="437.9" width="88.7" height="29.100000000000023" rx="9.5" ry="9.5" fill="#dde8f5" stroke="#41607f" stroke-width="1"/>
<text x="50.5" y="450.3" font-size="10.3" fill="#3b3126" text-anchor="middle" textLength="44.1" lengthAdjust="spacingAndGlyphs" stroke="#3b3126" stroke-width="0.26">Hamming</text>
<text x="50.5" y="462.7" font-size="10.3" fill="#3b3126" text-anchor="middle" textLength="62.9" lengthAdjust="spacingAndGlyphs" stroke="#3b3126" stroke-width="0.26">distance (HD)</text>
<rect x="105.4" y="438.2" width="89.19999999999999" height="28.400000000000034" rx="9.5" ry="9.5" fill="#fce4d6" stroke="#ee8a55" stroke-width="1"/>
<text x="150.0" y="450.5" font-size="10.3" fill="#3b3126" text-anchor="middle" textLength="36.6" lengthAdjust="spacingAndGlyphs" stroke="#3b3126" stroke-width="0.26">physical</text>
<text x="150.0" y="462.0" font-size="10.3" fill="#3b3126" text-anchor="middle" textLength="70.2" lengthAdjust="spacingAndGlyphs" stroke="#3b3126" stroke-width="0.26">decryption time</text>
<line x1="28.50" y1="473.80" x2="87.60" y2="473.80" stroke="#9a9a9a" stroke-width="0.9" />
<line x1="87.60" y1="473.80" x2="87.60" y2="525.10" stroke="#9a9a9a" stroke-width="0.9" />
<line x1="28.50" y1="473.30" x2="28.50" y2="525.60" stroke="#222" stroke-width="1" />
<line x1="28.00" y1="525.10" x2="87.60" y2="525.10" stroke="#222" stroke-width="1" />
<line x1="28.50" y1="478.90" x2="31.50" y2="478.90" stroke="#222" stroke-width="0.9" />
<line x1="28.50" y1="502.20" x2="31.50" y2="502.20" stroke="#222" stroke-width="0.9" />
<line x1="43.80" y1="525.10" x2="43.80" y2="522.30" stroke="#222" stroke-width="0.9" />
<line x1="58.00" y1="525.10" x2="58.00" y2="522.30" stroke="#222" stroke-width="0.9" />
<line x1="72.50" y1="525.10" x2="72.50" y2="522.30" stroke="#222" stroke-width="0.9" />
<path d="M34.41 508.47 L35.59 505.59 L36.77 502.85 L37.96 500.26 L39.14 497.82 L40.32 495.53 L41.50 493.39 L42.68 491.39 L43.87 489.54 L45.05 487.84 L46.23 486.29 L47.41 484.89 L48.59 483.63 L49.78 482.52 L50.96 481.56 L52.14 480.75 L53.32 480.08 L54.50 479.57 L55.69 479.20 L56.87 478.97 L58.05 478.90 L59.23 478.97 L60.41 479.20 L61.60 479.57 L62.78 480.08 L63.96 480.75 L65.14 481.56 L66.32 482.52 L67.51 483.63 L68.69 484.89 L69.87 486.29 L71.05 487.84 L72.23 489.54 L73.42 491.39 L74.60 493.39 L75.78 495.53 L76.96 497.82 L78.14 500.26 L79.33 502.85 L80.51 505.59 L81.69 508.47" fill="none" stroke="#222" stroke-width="0.9" />
<line x1="58.20" y1="480.00" x2="58.20" y2="525.00" stroke="#555" stroke-width="0.9" stroke-dasharray="1 1"/>
<circle cx="58.1" cy="478.9" r="1.7" fill="#d42322"/>
<text x="48.2" y="489.1" font-size="10.1" fill="#d42322" textLength="19.7" lengthAdjust="spacingAndGlyphs" stroke="#d42322" stroke-width="0.25">ours</text>
<text x="59.6" y="523.1" font-size="10.1" fill="#111" textLength="21.4" lengthAdjust="spacingAndGlyphs" stroke="#111" stroke-width="0.25">ideal</text>
<text x="26.3" y="482.2" font-size="10.5" fill="#111" text-anchor="end"  stroke="#111" stroke-width="0.26">0.5</text>
<text x="26.3" y="529.2" font-size="10.5" fill="#111" text-anchor="end"  stroke="#111" stroke-width="0.26">0</text>
<text x="28.8" y="536.5" font-size="10.5" fill="#111" text-anchor="middle"  stroke="#111" stroke-width="0.26">0</text>
<text x="57.7" y="536.5" font-size="10.5" fill="#111" text-anchor="middle"  stroke="#111" stroke-width="0.26">0.5</text>
<text x="86.1" y="536.5" font-size="10.5" fill="#111" text-anchor="middle"  stroke="#111" stroke-width="0.26">1</text>
<text x="56.0" y="546.8" font-size="10.3" fill="#111" text-anchor="middle" textLength="59.5" lengthAdjust="spacingAndGlyphs" stroke="#111" stroke-width="0.26">Bit uniformity</text>
<text transform="translate(10.4 501.8) rotate(-90)" font-size="10" fill="#111" text-anchor="middle" textLength="37.3" lengthAdjust="spacingAndGlyphs" stroke="#111" stroke-width="0.25">Inter-HD</text>
<text x='102.7' y='485.7' font-size='12' fill='#111' font-family='"Liberation Serif", serif' stroke="#111" stroke-width="0.30">(2</text>
<text x="114.9" y="481.1" font-size="9.3" fill="#111" font-family='"Liberation Serif", serif' font-style="italic" textLength="45.2" lengthAdjust="spacingAndGlyphs" stroke="#111" stroke-width="0.23">bit number</text>
<text x='160.8' y='485.7' font-size='12' fill='#111' font-family='"Liberation Serif", serif' textLength='32.3' lengthAdjust='spacingAndGlyphs' stroke="#111" stroke-width="0.30">+1)/2</text>
<text x='104.2' y='501.8' font-size='11.3' fill='#111' stroke="#111" stroke-width="0.28">=</text>
<text x='114.2' y='501.8' font-size='11.3' fill='#d42322' stroke="#d42322" stroke-width="0.28">5 × 10</text>
<text x='146.4' y='496.6' font-size='8.6' fill='#d42322' textLength='13.6' lengthAdjust='spacingAndGlyphs' stroke="#d42322" stroke-width="0.21">745</text>
<text x='164.7' y='501.8' font-size='11.3' fill='#d42322' textLength='30.7' lengthAdjust='spacingAndGlyphs' stroke="#d42322" stroke-width="0.28">(ours)</text>
<text x="96.5" y="533.2" font-size="11.9" fill="#111" font-family='"Liberation Serif", serif' textLength="39.9" lengthAdjust="spacingAndGlyphs" stroke="#111" stroke-width="0.30">HD±σ =</text>
<text x="96.5" y="546.2" font-size="11.7" fill="#243f66" textLength="99.4" lengthAdjust="spacingAndGlyphs" stroke="#243f66" stroke-width="0.29">0.494±0.029 (ours)</text>
<line x1="56.30" y1="553.80" x2="56.30" y2="561.30" stroke="#7f7f7f" stroke-width="1.1" />
<line x1="12.90" y1="561.30" x2="151.80" y2="561.30" stroke="#7f7f7f" stroke-width="1.1" />
<line x1="12.90" y1="561.30" x2="12.90" y2="731.00" stroke="#7f7f7f" stroke-width="1.1" />
<path d="M10.3 730.5 L15.5 730.5 L12.9 736 Z" fill="#7f7f7f" stroke="none" stroke-width="1" />
<line x1="62.30" y1="561.30" x2="62.30" y2="564.50" stroke="#7f7f7f" stroke-width="1.1" />
<path d="M59.699999999999996 564.0 L64.89999999999999 564.0 L62.3 568.5 Z" fill="#7f7f7f" stroke="none" stroke-width="1" />
<line x1="151.80" y1="561.30" x2="151.80" y2="564.50" stroke="#7f7f7f" stroke-width="1.1" />
<path d="M149.20000000000002 564.0 L154.4 564.0 L151.8 568.5 Z" fill="#7f7f7f" stroke="none" stroke-width="1" />
<rect x="22.3" y="568.4" width="79.3" height="43.89999999999998" rx="10" ry="10" fill="#dde8f5" stroke="#41607f" stroke-width="1"/>
<text x="62.0" y="582.1" font-size="10.3" fill="#3b3126" text-anchor="middle" textLength="65.1" lengthAdjust="spacingAndGlyphs" stroke="#3b3126" stroke-width="0.26">false positive /</text>
<text x="62.0" y="594.0" font-size="10.3" fill="#3b3126" text-anchor="middle" textLength="64.5" lengthAdjust="spacingAndGlyphs" stroke="#3b3126" stroke-width="0.26">negative rates</text>
<text x="62.0" y="606.2" font-size="10.3" fill="#3b3126" text-anchor="middle" textLength="62.2" lengthAdjust="spacingAndGlyphs" stroke="#3b3126" stroke-width="0.26">(FPR &amp; FNR)</text>
<rect x="109.4" y="568.4" width="84.9" height="43.89999999999998" rx="10" ry="10" fill="#dde8f5" stroke="#41607f" stroke-width="1"/>
<text x="151.9" y="582.1" font-size="10.3" fill="#3b3126" text-anchor="middle" textLength="71.7" lengthAdjust="spacingAndGlyphs" stroke="#3b3126" stroke-width="0.26">true accept rate</text>
<text x="151.9" y="594.0" font-size="10.3" fill="#3b3126" text-anchor="middle" textLength="67.9" lengthAdjust="spacingAndGlyphs" stroke="#3b3126" stroke-width="0.26">@ false accept</text>
<text x="151.9" y="606.2" font-size="10.3" fill="#3b3126" text-anchor="middle" textLength="79.2" lengthAdjust="spacingAndGlyphs" stroke="#3b3126" stroke-width="0.26">rate (TAR@FAR)</text>
<rect x="37.70" y="622.10" width="55.70" height="52.10" fill="none" stroke="#506a86" stroke-width="0.9" />
<path d="M37.70 674.20 L37.70 673.60 L38.16 673.60 L38.63 673.60 L39.09 673.60 L39.56 673.60 L40.02 673.60 L40.48 673.60 L40.95 673.60 L41.41 673.60 L41.88 673.60 L42.34 673.60 L42.81 673.60 L43.27 673.60 L43.73 673.60 L44.20 673.60 L44.66 673.60 L45.13 673.60 L45.59 673.60 L46.06 673.60 L46.52 673.60 L46.98 673.60 L47.45 673.60 L47.91 673.60 L48.38 673.60 L48.84 673.60 L49.30 673.60 L49.77 673.60 L50.23 673.60 L50.70 673.60 L51.16 673.60 L51.62 673.60 L52.09 673.59 L52.55 673.59 L53.02 673.59 L53.48 673.58 L53.95 673.57 L54.41 673.56 L54.87 673.54 L55.34 673.52 L55.80 673.49 L56.27 673.44 L56.73 673.38 L57.20 673.30 L57.66 673.19 L58.12 673.05 L58.59 672.86 L59.05 672.63 L59.52 672.33 L59.98 671.95 L60.44 671.49 L60.91 670.92 L61.37 670.23 L61.84 669.39 L62.30 668.41 L62.77 667.25 L63.23 665.92 L63.69 664.39 L64.16 662.66 L64.62 660.73 L65.09 658.60 L65.55 656.29 L65.55 656.29 L65.55 674.20 Z" fill="#f7c233" stroke="none" stroke-width="1" />
<path d="M65.55 674.20 L65.55 650.13 L65.55 650.13 L66.01 652.79 L66.48 655.32 L66.94 657.70 L67.41 659.90 L67.87 661.91 L68.34 663.72 L68.80 665.33 L69.26 666.74 L69.73 667.97 L70.19 669.02 L70.66 669.91 L71.12 670.66 L71.58 671.27 L72.05 671.78 L72.51 672.19 L72.98 672.52 L73.44 672.78 L73.91 672.98 L74.37 673.14 L74.83 673.26 L75.30 673.35 L75.76 673.42 L76.23 673.47 L76.69 673.51 L77.15 673.53 L77.62 673.55 L78.08 673.57 L78.55 673.58 L79.01 673.59 L79.48 673.59 L79.94 673.59 L80.40 673.60 L80.87 673.60 L81.33 673.60 L81.80 673.60 L82.26 673.60 L82.72 673.60 L83.19 673.60 L83.65 673.60 L84.12 673.60 L84.58 673.60 L85.05 673.60 L85.51 673.60 L85.97 673.60 L86.44 673.60 L86.90 673.60 L87.37 673.60 L87.83 673.60 L88.29 673.60 L88.76 673.60 L89.22 673.60 L89.69 673.60 L90.15 673.60 L90.62 673.60 L91.08 673.60 L91.54 673.60 L92.01 673.60 L92.47 673.60 L92.94 673.60 L93.40 673.60 L93.40 674.20 Z" fill="#3f8f3f" stroke="none" stroke-width="1" />
<path d="M37.70 673.60 L38.16 673.60 L38.63 673.60 L39.09 673.60 L39.56 673.60 L40.02 673.59 L40.48 673.59 L40.95 673.59 L41.41 673.58 L41.88 673.57 L42.34 673.55 L42.81 673.53 L43.27 673.51 L43.73 673.47 L44.20 673.42 L44.66 673.35 L45.13 673.26 L45.59 673.14 L46.06 672.98 L46.52 672.78 L46.98 672.52 L47.45 672.19 L47.91 671.78 L48.38 671.27 L48.84 670.66 L49.30 669.91 L49.77 669.02 L50.23 667.97 L50.70 666.74 L51.16 665.33 L51.62 663.72 L52.09 661.91 L52.55 659.90 L53.02 657.70 L53.48 655.32 L53.95 652.79 L54.41 650.13 L54.87 647.39 L55.34 644.60 L55.80 641.83 L56.27 639.13 L56.73 636.55 L57.20 634.16 L57.66 632.02 L58.12 630.18 L58.59 628.69 L59.05 627.60 L59.52 626.93 L59.98 626.71 L60.44 626.93 L60.91 627.60 L61.37 628.69 L61.84 630.18 L62.30 632.02 L62.77 634.16 L63.23 636.55 L63.69 639.13 L64.16 641.83 L64.62 644.60 L65.09 647.39 L65.55 650.13 L66.01 652.79 L66.48 655.32 L66.94 657.70 L67.41 659.90 L67.87 661.91 L68.34 663.72 L68.80 665.33 L69.26 666.74 L69.73 667.97 L70.19 669.02 L70.66 669.91 L71.12 670.66 L71.58 671.27 L72.05 671.78 L72.51 672.19 L72.98 672.52 L73.44 672.78 L73.91 672.98 L74.37 673.14 L74.83 673.26 L75.30 673.35 L75.76 673.42 L76.23 673.47 L76.69 673.51 L77.15 673.53 L77.62 673.55 L78.08 673.57 L78.55 673.58 L79.01 673.59 L79.48 673.59 L79.94 673.59 L80.40 673.60 L80.87 673.60 L81.33 673.60 L81.80 673.60 L82.26 673.60 L82.72 673.60 L83.19 673.60 L83.65 673.60 L84.12 673.60 L84.58 673.60 L85.05 673.60 L85.51 673.60 L85.97 673.60 L86.44 673.60 L86.90 673.60 L87.37 673.60 L87.83 673.60 L88.29 673.60 L88.76 673.60 L89.22 673.60 L89.69 673.60 L90.15 673.60 L90.62 673.60 L91.08 673.60 L91.54 673.60 L92.01 673.60 L92.47 673.60 L92.94 673.60 L93.40 673.60" fill="none" stroke="#3a9a3a" stroke-width="0.9" />
<path d="M37.70 673.60 L38.16 673.60 L38.63 673.60 L39.09 673.60 L39.56 673.60 L40.02 673.60 L40.48 673.60 L40.95 673.60 L41.41 673.60 L41.88 673.60 L42.34 673.60 L42.81 673.60 L43.27 673.60 L43.73 673.60 L44.20 673.60 L44.66 673.60 L45.13 673.60 L45.59 673.60 L46.06 673.60 L46.52 673.60 L46.98 673.60 L47.45 673.60 L47.91 673.60 L48.38 673.60 L48.84 673.60 L49.30 673.60 L49.77 673.60 L50.23 673.60 L50.70 673.60 L51.16 673.60 L51.62 673.60 L52.09 673.59 L52.55 673.59 L53.02 673.59 L53.48 673.58 L53.95 673.57 L54.41 673.56 L54.87 673.54 L55.34 673.52 L55.80 673.49 L56.27 673.44 L56.73 673.38 L57.20 673.30 L57.66 673.19 L58.12 673.05 L58.59 672.86 L59.05 672.63 L59.52 672.33 L59.98 671.95 L60.44 671.49 L60.91 670.92 L61.37 670.23 L61.84 669.39 L62.30 668.41 L62.77 667.25 L63.23 665.92 L63.69 664.39 L64.16 662.66 L64.62 660.73 L65.09 658.60 L65.55 656.29 L66.01 653.82 L66.48 651.20 L66.94 648.49 L67.41 645.72 L67.87 642.93 L68.34 640.20 L68.80 637.56 L69.26 635.09 L69.73 632.84 L70.19 630.88 L70.66 629.24 L71.12 627.99 L71.58 627.15 L72.05 626.75 L72.51 626.79 L72.98 627.28 L73.44 628.21 L73.91 629.54 L74.37 631.24 L74.83 633.27 L75.30 635.57 L75.76 638.08 L76.23 640.74 L76.69 643.49 L77.15 646.27 L77.62 649.04 L78.08 651.74 L78.55 654.32 L79.01 656.77 L79.48 659.04 L79.94 661.13 L80.40 663.02 L80.87 664.71 L81.33 666.20 L81.80 667.50 L82.26 668.62 L82.72 669.57 L83.19 670.37 L83.65 671.04 L84.12 671.59 L84.58 672.04 L85.05 672.39 L85.51 672.68 L85.97 672.90 L86.44 673.08 L86.90 673.21 L87.37 673.32 L87.83 673.39 L88.29 673.45 L88.76 673.49 L89.22 673.52 L89.69 673.55 L90.15 673.56 L90.62 673.57 L91.08 673.58 L91.54 673.59 L92.01 673.59 L92.47 673.59 L92.94 673.60 L93.40 673.60" fill="none" stroke="#f5b324" stroke-width="0.9" />
<line x1="65.55" y1="622.10" x2="65.55" y2="674.20" stroke="#111" stroke-width="0.9" stroke-dasharray="2 1.2"/>
<rect x="122.60" y="622.10" width="55.30" height="52.10" fill="none" stroke="#506a86" stroke-width="0.9" />
<path d="M122.60 674.20 L122.60 673.60 L123.06 673.60 L123.52 673.60 L123.98 673.60 L124.44 673.60 L124.90 673.60 L125.36 673.60 L125.83 673.60 L126.29 673.60 L126.75 673.60 L127.21 673.59 L127.67 673.59 L128.13 673.58 L128.59 673.57 L129.05 673.56 L129.51 673.54 L129.97 673.51 L130.43 673.46 L130.89 673.39 L131.36 673.29 L131.82 673.15 L132.28 672.96 L132.74 672.69 L133.20 672.34 L133.66 671.88 L134.12 671.28 L134.58 670.52 L135.04 669.56 L135.50 668.38 L135.96 666.95 L136.43 665.24 L136.89 663.25 L137.35 660.96 L137.81 658.38 L138.27 655.53 L138.73 652.45 L139.19 649.20 L139.65 645.84 L140.11 642.46 L140.57 639.16 L141.03 636.05 L141.49 633.24 L141.95 630.82 L141.95 630.82 L141.95 674.20 Z" fill="#3f8f3f" stroke="none" stroke-width="1" />
<path d="M122.60 674.20 L122.60 673.60 L123.06 673.60 L123.52 673.60 L123.98 673.60 L124.44 673.60 L124.90 673.60 L125.36 673.60 L125.83 673.60 L126.29 673.60 L126.75 673.60 L127.21 673.60 L127.67 673.60 L128.13 673.60 L128.59 673.60 L129.05 673.60 L129.51 673.60 L129.97 673.60 L130.43 673.60 L130.89 673.60 L131.36 673.60 L131.82 673.60 L132.28 673.60 L132.74 673.60 L133.20 673.60 L133.66 673.60 L134.12 673.60 L134.58 673.60 L135.04 673.60 L135.50 673.60 L135.96 673.60 L136.43 673.60 L136.89 673.60 L137.35 673.60 L137.81 673.60 L138.27 673.60 L138.73 673.60 L139.19 673.60 L139.65 673.60 L140.11 673.60 L140.57 673.59 L141.03 673.59 L141.49 673.58 L141.95 673.57 L141.95 673.57 L141.95 674.20 Z" fill="#f7c233" stroke="none" stroke-width="1" />
<path d="M122.60 673.60 L123.06 673.60 L123.52 673.60 L123.98 673.60 L124.44 673.60 L124.90 673.60 L125.36 673.60 L125.83 673.60 L126.29 673.60 L126.75 673.60 L127.21 673.59 L127.67 673.59 L128.13 673.58 L128.59 673.57 L129.05 673.56 L129.51 673.54 L129.97 673.51 L130.43 673.46 L130.89 673.39 L131.36 673.29 L131.82 673.15 L132.28 672.96 L132.74 672.69 L133.20 672.34 L133.66 671.88 L134.12 671.28 L134.58 670.52 L135.04 669.56 L135.50 668.38 L135.96 666.95 L136.43 665.24 L136.89 663.25 L137.35 660.96 L137.81 658.38 L138.27 655.53 L138.73 652.45 L139.19 649.20 L139.65 645.84 L140.11 642.46 L140.57 639.16 L141.03 636.05 L141.49 633.24 L141.95 630.82 L142.42 628.90 L142.88 627.55 L143.34 626.83 L143.80 626.76 L144.26 627.36 L144.72 628.59 L145.18 630.40 L145.64 632.72 L146.10 635.46 L146.56 638.52 L147.02 641.79 L147.49 645.16 L147.95 648.53 L148.41 651.81 L148.87 654.93 L149.33 657.83 L149.79 660.46 L150.25 662.81 L150.71 664.87 L151.17 666.63 L151.63 668.11 L152.09 669.34 L152.55 670.34 L153.02 671.14 L153.48 671.77 L153.94 672.26 L154.40 672.63 L154.86 672.91 L155.32 673.12 L155.78 673.26 L156.24 673.37 L156.70 673.45 L157.16 673.50 L157.62 673.53 L158.08 673.56 L158.55 673.57 L159.01 673.58 L159.47 673.59 L159.93 673.59 L160.39 673.60 L160.85 673.60 L161.31 673.60 L161.77 673.60 L162.23 673.60 L162.69 673.60 L163.15 673.60 L163.61 673.60 L164.07 673.60 L164.54 673.60 L165.00 673.60 L165.46 673.60 L165.92 673.60 L166.38 673.60 L166.84 673.60 L167.30 673.60 L167.76 673.60 L168.22 673.60 L168.68 673.60 L169.14 673.60 L169.61 673.60 L170.07 673.60 L170.53 673.60 L170.99 673.60 L171.45 673.60 L171.91 673.60 L172.37 673.60 L172.83 673.60 L173.29 673.60 L173.75 673.60 L174.21 673.60 L174.67 673.60 L175.13 673.60 L175.60 673.60 L176.06 673.60 L176.52 673.60 L176.98 673.60 L177.44 673.60 L177.90 673.60" fill="none" stroke="#3a9a3a" stroke-width="0.9" />
<path d="M122.60 673.60 L123.06 673.60 L123.52 673.60 L123.98 673.60 L124.44 673.60 L124.90 673.60 L125.36 673.60 L125.83 673.60 L126.29 673.60 L126.75 673.60 L127.21 673.60 L127.67 673.60 L128.13 673.60 L128.59 673.60 L129.05 673.60 L129.51 673.60 L129.97 673.60 L130.43 673.60 L130.89 673.60 L131.36 673.60 L131.82 673.60 L132.28 673.60 L132.74 673.60 L133.20 673.60 L133.66 673.60 L134.12 673.60 L134.58 673.60 L135.04 673.60 L135.50 673.60 L135.96 673.60 L136.43 673.60 L136.89 673.60 L137.35 673.60 L137.81 673.60 L138.27 673.60 L138.73 673.60 L139.19 673.60 L139.65 673.60 L140.11 673.60 L140.57 673.59 L141.03 673.59 L141.49 673.58 L141.95 673.57 L142.42 673.56 L142.88 673.53 L143.34 673.50 L143.80 673.45 L144.26 673.37 L144.72 673.26 L145.18 673.12 L145.64 672.91 L146.10 672.63 L146.56 672.26 L147.02 671.77 L147.49 671.14 L147.95 670.34 L148.41 669.34 L148.87 668.11 L149.33 666.63 L149.79 664.87 L150.25 662.81 L150.71 660.46 L151.17 657.83 L151.63 654.93 L152.09 651.81 L152.55 648.53 L153.02 645.16 L153.48 641.79 L153.94 638.52 L154.40 635.46 L154.86 632.72 L155.32 630.40 L155.78 628.59 L156.24 627.36 L156.70 626.76 L157.16 626.83 L157.62 627.55 L158.08 628.90 L158.55 630.82 L159.01 633.24 L159.47 636.05 L159.93 639.16 L160.39 642.46 L160.85 645.84 L161.31 649.20 L161.77 652.45 L162.23 655.53 L162.69 658.38 L163.15 660.96 L163.61 663.25 L164.07 665.24 L164.54 666.95 L165.00 668.38 L165.46 669.56 L165.92 670.52 L166.38 671.28 L166.84 671.88 L167.30 672.34 L167.76 672.69 L168.22 672.96 L168.68 673.15 L169.14 673.29 L169.61 673.39 L170.07 673.46 L170.53 673.51 L170.99 673.54 L171.45 673.56 L171.91 673.57 L172.37 673.58 L172.83 673.59 L173.29 673.59 L173.75 673.60 L174.21 673.60 L174.67 673.60 L175.13 673.60 L175.60 673.60 L176.06 673.60 L176.52 673.60 L176.98 673.60 L177.44 673.60 L177.90 673.60" fill="none" stroke="#f5b324" stroke-width="0.9" />
<line x1="141.95" y1="622.10" x2="141.95" y2="674.20" stroke="#111" stroke-width="0.9" stroke-dasharray="2 1.2"/>
<text x="39.6" y="661.3" font-size="10.3" fill="#111" textLength="21.2" lengthAdjust="spacingAndGlyphs" stroke="#111" stroke-width="0.26">FNR</text>
<text x="71.7" y="661.3" font-size="10.3" fill="#111" textLength="20.8" lengthAdjust="spacingAndGlyphs" stroke="#111" stroke-width="0.26">FPR</text>
<line x1="56.00" y1="663.50" x2="62.00" y2="670.50" stroke="#111" stroke-width="1.1" stroke-dasharray="1.1 1"/>
<line x1="76.00" y1="663.50" x2="69.50" y2="669.50" stroke="#111" stroke-width="1.1" stroke-dasharray="1.1 1"/>
<text x="147.2" y="637.7" font-size="10.3" fill="#111" textLength="20.2" lengthAdjust="spacingAndGlyphs" stroke="#111" stroke-width="0.26">TAR</text>
<text x="154.7" y="654.3" font-size="10.3" fill="#111" textLength="20.4" lengthAdjust="spacingAndGlyphs" stroke="#111" stroke-width="0.26">FAR</text>
<line x1="150.00" y1="639.50" x2="142.00" y2="645.00" stroke="#111" stroke-width="1.1" stroke-dasharray="1.1 1"/>
<line x1="155.00" y1="656.50" x2="142.50" y2="671.00" stroke="#111" stroke-width="1.1" stroke-dasharray="1.1 1"/>
<text x="38.3" y="684.9" font-size="10.5" fill="#111" text-anchor="middle"  stroke="#111" stroke-width="0.26">0</text>
<text x="66.0" y="684.9" font-size="10.5" fill="#111" text-anchor="middle"  stroke="#111" stroke-width="0.26">0.5</text>
<text x="94.3" y="684.9" font-size="10.5" fill="#111" text-anchor="middle"  stroke="#111" stroke-width="0.26">1</text>
<text x="123.6" y="684.9" font-size="10.5" fill="#111" text-anchor="middle"  stroke="#111" stroke-width="0.26">0</text>
<text x="150.9" y="684.9" font-size="10.5" fill="#111" text-anchor="middle"  stroke="#111" stroke-width="0.26">0.5</text>
<text x="177.0" y="684.9" font-size="10.5" fill="#111" text-anchor="middle"  stroke="#111" stroke-width="0.26">1</text>
<text x="65.1" y="696.2" font-size="10.5" fill="#111" text-anchor="middle"  stroke="#111" stroke-width="0.26">HD</text>
<text x="151.3" y="696.2" font-size="10.5" fill="#111" text-anchor="middle"  stroke="#111" stroke-width="0.26">HD</text>
<text transform="translate(33.7 650) rotate(-90)" font-size="10" fill="#111" text-anchor="middle" textLength="26.4" lengthAdjust="spacingAndGlyphs" stroke="#111" stroke-width="0.25">Count</text>
<text x="63.9" y="709.6" font-size="11.6" fill="#243f66" text-anchor="middle" textLength="53.1" lengthAdjust="spacingAndGlyphs" stroke="#243f66" stroke-width="0.29">our FPR =</text>
<text x='35.6' y='724.6' font-size='12' fill='#243f66' font-family='"Liberation Serif", serif' textLength='41.2' lengthAdjust='spacingAndGlyphs' stroke="#243f66" stroke-width="0.30">1.7 × 10</text>
<text x='77.6' y='719.3' font-size='9' fill='#243f66' font-family='"Liberation Serif", serif' textLength='15.2' lengthAdjust='spacingAndGlyphs' stroke="#243f66" stroke-width="0.23">−66</text>
<text x="148.6" y="709.6" font-size="11.6" fill="#243f66" text-anchor="middle" textLength="25.7" lengthAdjust="spacingAndGlyphs" stroke="#243f66" stroke-width="0.29">ours:</text>
<text x="107.4" y="724.2" font-size="12.1" fill="#243f66" font-family='"Liberation Serif", serif' textLength="83.0" lengthAdjust="spacingAndGlyphs" stroke="#243f66" stroke-width="0.30">99.9% @0.001%</text>
<rect x="7.3" y="735.9" width="67.2" height="26.300000000000068" rx="9.5" ry="9.5" fill="#dde8f5" stroke="#41607f" stroke-width="1"/>
<text x="40.9" y="746.3" font-size="10.3" fill="#3b3126" text-anchor="middle" textLength="43.5" lengthAdjust="spacingAndGlyphs" stroke="#3b3126" stroke-width="0.26">degree of</text>
<text x="40.9" y="758.6" font-size="10.3" fill="#3b3126" text-anchor="middle" textLength="38.5" lengthAdjust="spacingAndGlyphs" stroke="#3b3126" stroke-width="0.26">freedom</text>
<text x="82.3" y="744.6" font-size="8.2" fill="#111" font-family='"Liberation Serif", serif' textLength="43.2" lengthAdjust="spacingAndGlyphs" stroke="#111" stroke-width="0.20">HD(1−HD)</text>
<line x1="82.00" y1="748.10" x2="126.00" y2="748.10" stroke="#111" stroke-width="0.8" />
<text x='99.2' y='757.8' font-size='8.5' fill='#111' font-family='"Liberation Serif", serif' font-style='italic' stroke="#111" stroke-width="0.21">σ</text>
<text x='104.6' y='754.3' font-size='6.5' fill='#111' font-family='"Liberation Serif", serif' stroke="#111" stroke-width="0.16">2</text>
<text x="127.9" y="752.0" font-size="11.7" fill="#243f66" textLength="63.3" lengthAdjust="spacingAndGlyphs" stroke="#243f66" stroke-width="0.29">= 567 (ours)</text>
<text x="25.7" y="785.6" font-size="11.6" fill="#111" textLength="92.4" lengthAdjust="spacingAndGlyphs" stroke="#111" stroke-width="0.29">practical capacity:</text>
<text x='121.5' y='785.6' font-size='12' fill='#111' font-family='"Liberation Serif", serif' stroke="#111" stroke-width="0.30">2</text>
<text x="127.8" y="779.6" font-size="9.2" fill="#111" font-family='"Liberation Serif", serif' font-style="italic" textLength="16.4" lengthAdjust="spacingAndGlyphs" stroke="#111" stroke-width="0.23">DoF</text>
<text x='147.9' y='785.6' font-size='12' fill='#111' font-family='"Liberation Serif", serif' stroke="#111" stroke-width="0.30">=</text>
<text x='159.6' y='785.6' font-size='12' fill='#243f66' font-family='"Liberation Serif", serif' stroke="#243f66" stroke-width="0.30">2</text>
<text x="165.9" y="779.6" font-size="9.2" fill="#243f66" font-family='"Liberation Serif", serif' textLength="14.0" lengthAdjust="spacingAndGlyphs" stroke="#243f66" stroke-width="0.23">567</text>
<text x="182.6" y="785.6" font-size="11.6" fill="#243f66" textLength="30.7" lengthAdjust="spacingAndGlyphs" stroke="#243f66" stroke-width="0.29">(ours)</text>
<text x="209" y="339" font-size="14" fill="#000" font-weight="bold"  stroke="#000" stroke-width="0.35">C</text>
<rect x="252.80" y="331.90" width="116.50" height="107.10" fill="none" stroke="#222" stroke-width="1" />
<line x1="252.80" y1="403.30" x2="258.80" y2="403.30" stroke="#222" stroke-width="1" />
<line x1="252.80" y1="367.60" x2="258.80" y2="367.60" stroke="#222" stroke-width="1" />
<line x1="281.93" y1="439.00" x2="281.93" y2="433.00" stroke="#222" stroke-width="1" />
<line x1="311.05" y1="439.00" x2="311.05" y2="433.00" stroke="#222" stroke-width="1" />
<line x1="340.18" y1="439.00" x2="340.18" y2="433.00" stroke="#222" stroke-width="1" />
<rect x="299.20" y="436.00" width="5.80" height="3.00" fill="#4d4d4d" stroke="#1a1a1a" stroke-width="0.8" />
<rect x="305.00" y="369.30" width="6.20" height="69.70" fill="#4d4d4d" stroke="#1a1a1a" stroke-width="0.8" />
<rect x="311.20" y="342.10" width="5.80" height="96.90" fill="#4d4d4d" stroke="#1a1a1a" stroke-width="0.8" />
<rect x="317.00" y="429.10" width="5.90" height="9.90" fill="#4d4d4d" stroke="#1a1a1a" stroke-width="0.8" />
<text x="249.0" y="337.2" font-size="12.7" fill="#111" text-anchor="end"  stroke="#111" stroke-width="0.32">150</text>
<text x="249.0" y="372.90000000000003" font-size="12.7" fill="#111" text-anchor="end"  stroke="#111" stroke-width="0.32">100</text>
<text x="249.0" y="408.6" font-size="12.7" fill="#111" text-anchor="end"  stroke="#111" stroke-width="0.32">50</text>
<text x="249.0" y="444.3" font-size="12.7" fill="#111" text-anchor="end"  stroke="#111" stroke-width="0.32">0</text>
<text x="252.8" y="453.0" font-size="12.7" fill="#111" text-anchor="middle"  stroke="#111" stroke-width="0.32">0</text>
<text x="281.925" y="453.0" font-size="12.7" fill="#111" text-anchor="middle"  stroke="#111" stroke-width="0.32">0.25</text>
<text x="311.05" y="453.0" font-size="12.7" fill="#111" text-anchor="middle"  stroke="#111" stroke-width="0.32">0.5</text>
<text x="340.175" y="453.0" font-size="12.7" fill="#111" text-anchor="middle"  stroke="#111" stroke-width="0.32">0.75</text>
<text x="369.3" y="453.0" font-size="12.7" fill="#111" text-anchor="middle"  stroke="#111" stroke-width="0.32">1</text>
<text x="314.5" y="467.0" font-size="12.7" fill="#111" text-anchor="middle" textLength="74.2" lengthAdjust="spacingAndGlyphs" stroke="#111" stroke-width="0.32">Bit uniformity</text>
<text transform="translate(219.6 385.5) rotate(-90)" font-size="12.7" fill="#111" text-anchor="middle" stroke="#111" stroke-width="0.32">Count</text>
<text x="322.6" y="346.5" font-size="11.2" fill="#111"  stroke="#111" stroke-width="0.28">μ: 0.501</text>
<text x="322.6" y="359.6" font-size="11.2" fill="#111"  stroke="#111" stroke-width="0.28">σ: 0.028</text>
<text x="384.8" y="338.6" font-size="14" fill="#000" font-weight="bold"  stroke="#000" stroke-width="0.35">D</text>
<rect x="411.70" y="370.40" width="1.39" height="68.60" fill="#3a9a3a" stroke="none" stroke-width="1" />
<rect x="413.09" y="372.00" width="5.55" height="67.00" fill="#6fb86f" stroke="none" stroke-width="1" opacity="0.9"/>
<path d="M411.70 369.90 L412.21 369.90 L412.71 369.90 L413.22 369.90 L413.72 369.90 L414.23 370.03 L414.73 371.37 L415.24 374.07 L415.75 377.96 L416.25 382.81 L416.76 388.35 L417.26 394.29 L417.77 400.35 L418.27 406.27 L418.78 411.84 L419.29 416.92 L419.79 421.39 L420.30 425.23 L420.80 428.42 L421.31 431.00 L421.81 433.04 L422.32 434.61 L422.83 435.79 L423.33 436.65 L423.84 437.26 L424.34 437.69 L424.85 437.98 L425.36 438.17 L425.86 438.30 L426.37 438.38 L426.87 438.43 L427.38 438.46 L427.88 438.48 L428.39 438.49 L428.90 438.49 L429.40 438.50 L429.91 438.50 L430.41 438.50 L430.92 438.50 L431.42 438.50 L431.93 438.50 L432.44 438.50 L432.94 438.50 L433.45 438.50 L433.95 438.50 L434.46 438.50 L434.96 438.50 L435.47 438.50 L435.98 438.50 L436.48 438.50 L436.99 438.50 L437.49 438.50 L438.00 438.50 L438.50 438.50 L439.01 438.50 L439.52 438.50 L440.02 438.50 L440.53 438.50 L441.03 438.50 L441.54 438.50 L442.04 438.50 L442.55 438.50 L443.06 438.50 L443.56 438.50 L444.07 438.50 L444.57 438.50 L445.08 438.50 L445.59 438.50 L446.09 438.50 L446.60 438.50 L447.10 438.50 L447.61 438.50 L448.11 438.50 L448.62 438.50 L449.13 438.50 L449.63 438.50 L450.14 438.50 L450.64 438.50 L451.15 438.50 L451.65 438.50 L452.16 438.50" fill="none" stroke="#2e8b2e" stroke-width="1.1" />
<rect x="461.90" y="391.60" width="2.80" height="47.40" fill="#ffb52a" stroke="#f5a300" stroke-width="0.5" />
<rect x="464.70" y="339.00" width="4.10" height="100.00" fill="#ffb52a" stroke="#f5a300" stroke-width="0.5" />
<rect x="468.80" y="359.00" width="2.80" height="80.00" fill="#ffb52a" stroke="#f5a300" stroke-width="0.5" />
<rect x="471.60" y="353.30" width="2.80" height="85.70" fill="#ffb52a" stroke="#f5a300" stroke-width="0.5" />
<rect x="474.40" y="393.00" width="2.70" height="46.00" fill="#ffb52a" stroke="#f5a300" stroke-width="0.5" />
<path d="M440.60 437.70 L440.96 437.68 L441.32 437.66 L441.68 437.64 L442.04 437.61 L442.41 437.59 L442.77 437.56 L443.13 437.54 L443.49 437.51 L443.85 437.48 L444.21 437.45 L444.57 437.42 L444.93 437.39 L445.30 437.35 L445.66 437.32 L446.02 437.28 L446.38 437.24 L446.74 437.20 L447.10 437.16 L447.46 437.11 L447.82 437.07 L448.19 437.02 L448.55 436.96 L448.91 436.91 L449.27 436.85 L449.63 436.79 L449.99 436.72 L450.35 436.65 L450.71 436.58 L451.08 436.50 L451.44 436.42 L451.80 436.33 L452.16 436.24 L452.52 436.14 L452.88 436.04 L453.24 435.92 L453.60 435.80 L453.97 435.68 L454.33 435.54 L454.69 435.39 L455.05 435.23 L455.41 435.06 L455.77 434.87 L456.13 434.67 L456.50 434.45 L456.86 434.21 L457.22 433.95 L457.58 433.67 L457.94 433.36 L458.30 433.02 L458.66 432.65 L459.02 432.23 L459.38 431.78 L459.75 431.27 L460.11 430.70 L460.47 430.07 L460.83 429.36 L461.19 428.57 L461.55 427.66 L461.91 426.64 L462.27 425.47 L462.64 424.12 L463.00 422.58 L463.36 420.78 L463.72 418.70 L464.08 416.26 L464.44 413.40 L464.80 410.03 L465.16 406.04 L465.53 401.33 L465.89 395.78 L466.25 389.28 L466.61 381.79 L466.97 373.40 L467.33 364.39 L467.69 355.40 L468.05 347.45 L468.42 341.78 L468.78 339.51 L469.14 341.16 L469.50 346.35 L469.86 354.03 L470.22 362.93 L470.58 371.99 L470.94 380.51 L471.31 388.15 L471.67 394.80 L472.03 400.50 L472.39 405.34 L472.75 409.43 L473.11 412.90 L473.47 415.84 L473.83 418.34 L474.20 420.47 L474.56 422.31 L474.92 423.89 L475.28 425.26 L475.64 426.46 L476.00 427.51 L476.36 428.43 L476.72 429.24 L477.09 429.97 L477.45 430.61 L477.81 431.18 L478.17 431.70 L478.53 432.16 L478.89 432.58 L479.25 432.96 L479.61 433.31 L479.98 433.62 L480.34 433.91 L480.70 434.17 L481.06 434.41 L481.42 434.63 L481.78 434.84 L482.14 435.03 L482.50 435.20 L482.87 435.36 L483.23 435.51 L483.59 435.65 L483.95 435.78 L484.31 435.91 L484.67 436.02 L485.03 436.13 L485.39 436.23 L485.76 436.32 L486.12 436.41 L486.48 436.49 L486.84 436.57 L487.20 436.64 L487.56 436.71 L487.92 436.78 L488.28 436.84 L488.65 436.90 L489.01 436.96 L489.37 437.01 L489.73 437.06 L490.09 437.11 L490.45 437.15 L490.81 437.20 L491.17 437.24 L491.54 437.28 L491.90 437.31 L492.26 437.35 L492.62 437.38 L492.98 437.42 L493.34 437.45 L493.70 437.48 L494.06 437.51 L494.43 437.53 L494.79 437.56 L495.15 437.59 L495.51 437.61 L495.87 437.63 L496.23 437.66 L496.59 437.68 L496.95 437.70 L497.32 437.72 L497.68 437.74 L498.04 437.76 L498.40 437.77" fill="none" stroke="#c8951a" stroke-width="1.0" />
<rect x="411.70" y="331.00" width="115.60" height="108.00" fill="none" stroke="#000" stroke-width="1.1" />
<line x1="411.70" y1="385.20" x2="418.70" y2="385.20" stroke="#000" stroke-width="1.2" />
<line x1="527.30" y1="367.00" x2="519.90" y2="367.00" stroke="#000" stroke-width="1.2" />
<line x1="527.30" y1="402.80" x2="519.90" y2="402.80" stroke="#000" stroke-width="1.2" />
<line x1="440.60" y1="439.00" x2="440.60" y2="433.00" stroke="#222" stroke-width="1" />
<line x1="469.50" y1="439.00" x2="469.50" y2="433.00" stroke="#222" stroke-width="1" />
<line x1="498.40" y1="439.00" x2="498.40" y2="433.00" stroke="#222" stroke-width="1" />
<text x="407.5" y="338.5" font-size="12.7" fill="#111" text-anchor="end"  stroke="#111" stroke-width="0.32">3</text>
<text x="407.5" y="443.4" font-size="12.7" fill="#111" text-anchor="end"  stroke="#111" stroke-width="0.32">0</text>
<text x="531.0" y="338.7" font-size="12.7" fill="#111"  stroke="#111" stroke-width="0.32">6</text>
<text x="531.0" y="372.9" font-size="12.7" fill="#111"  stroke="#111" stroke-width="0.32">4</text>
<text x="531.0" y="408.7" font-size="12.7" fill="#111"  stroke="#111" stroke-width="0.32">2</text>
<text x="531.0" y="443.4" font-size="12.7" fill="#111"  stroke="#111" stroke-width="0.32">0</text>
<text x="413.3" y="453.6" font-size="12.7" fill="#111" text-anchor="middle"  stroke="#111" stroke-width="0.32">0</text>
<text x="441.9" y="453.6" font-size="12.7" fill="#111" text-anchor="middle"  stroke="#111" stroke-width="0.32">0.25</text>
<text x="469.8" y="453.6" font-size="12.7" fill="#111" text-anchor="middle"  stroke="#111" stroke-width="0.32">0.5</text>
<text x="497.7" y="453.6" font-size="12.7" fill="#111" text-anchor="middle"  stroke="#111" stroke-width="0.32">0.75</text>
<text x="525.1" y="453.6" font-size="12.7" fill="#111" text-anchor="middle"  stroke="#111" stroke-width="0.32">1</text>
<text x="470.8" y="466.8" font-size="12.7" fill="#111" text-anchor="middle" textLength="105.1" lengthAdjust="spacingAndGlyphs" stroke="#111" stroke-width="0.32">Hamming distance</text>
<text transform="translate(396.0 384.6) rotate(-90)" font-size="12.7" fill="#111" text-anchor="middle" stroke="#111" stroke-width="0.32">Count</text>
<text x='415.5' y='347.6' font-size='12.6' fill='#111' stroke="#111" stroke-width="0.32">(x10<tspan font-size='8.3' dy='-4.6'>2</tspan><tspan dy='4.6'>)</tspan></text>
<text x='491.0' y='347.6' font-size='12.6' fill='#111' stroke="#111" stroke-width="0.32">(x10<tspan font-size='8.3' dy='-4.6'>4</tspan><tspan dy='4.6'>)</tspan></text>
<path d="M427.7 393.6 L427.7 371.9 L418.5 371.9" fill="none" stroke="#2e8b2e" stroke-width="1.2" />
<path d="M414.3 371.9 L419.6 368.8 L419.6 375.0 Z" fill="#2e8b2e" stroke="none" stroke-width="1" />
<path d="M491.6 393.4 L491.6 372.1 L519.5 372.1" fill="none" stroke="#e0a81c" stroke-width="1.2" />
<path d="M524.3 372.1 L518.6 369.0 L518.6 375.2 Z" fill="#e0a81c" stroke="none" stroke-width="1" />
<text x="420.0" y="405.8" font-size="11.5" fill="#2f7d2f" textLength="41.6" lengthAdjust="spacingAndGlyphs" stroke="#2f7d2f" stroke-width="0.29">intra-HD</text>
<text x="478.0" y="405.8" font-size="11.5" fill="#e0a21a" textLength="41.7" lengthAdjust="spacingAndGlyphs" stroke="#e0a21a" stroke-width="0.29">inter-HD</text>
<text x="424.4" y="418.0" font-size="11.0" fill="#111" textLength="30.4" lengthAdjust="spacingAndGlyphs" stroke="#111" stroke-width="0.28">: 0.025</text>
<text x="424.4" y="430.2" font-size="11.0" fill="#111" textLength="31.1" lengthAdjust="spacingAndGlyphs" stroke="#111" stroke-width="0.28">±0.015</text>
<text x="481.3" y="418.0" font-size="11.0" fill="#111" textLength="30.4" lengthAdjust="spacingAndGlyphs" stroke="#111" stroke-width="0.28">: 0.494</text>
<text x="481.3" y="430.2" font-size="11.0" fill="#111" textLength="31.1" lengthAdjust="spacingAndGlyphs" stroke="#111" stroke-width="0.28">±0.021</text>
<path d="M563 439.5 L563 420.9 C566.42 419.78 576.93 417.22 583.50 414.20 C590.07 411.18 596.40 407.05 602.40 402.80 C608.40 398.55 616.65 391.05 619.50 388.70 L619.5 439.5 Z" fill="#fdc93e" stroke="none" stroke-width="1" />
<path d="M619.5 439.5 L619.5 388.7 C620.58 390.58 621.58 394.78 626.00 400.00 C630.42 405.22 640.17 415.00 646.00 420.00 C651.83 425.00 655.45 427.58 661.00 430.00 C666.55 432.42 676.25 433.75 679.30 434.50 L679.3 439.5 Z" fill="#3d9a3d" stroke="none" stroke-width="1" />
<path d="M563.00 420.90 C566.42 419.78 576.93 417.22 583.50 414.20 C590.07 411.18 596.40 407.05 602.40 402.80 C608.40 398.55 613.02 395.23 619.50 388.70 C625.98 382.17 634.82 373.08 641.30 363.60 C647.78 354.12 655.55 337.10 658.40 331.80" fill="none" stroke="#f4b31e" stroke-width="1.2" />
<path d="M597.10 331.80 C597.83 334.73 597.77 339.92 601.50 349.40 C605.23 358.88 615.42 380.27 619.50 388.70 C623.58 397.13 621.58 394.78 626.00 400.00 C630.42 405.22 640.17 415.00 646.00 420.00 C651.83 425.00 655.45 427.58 661.00 430.00 C666.55 432.42 676.25 433.75 679.30 434.50" fill="none" stroke="#1f801f" stroke-width="1.2" />
<line x1="619.50" y1="331.80" x2="619.50" y2="439.50" stroke="#222" stroke-width="0.9" stroke-dasharray="2 1.3"/>
<rect x="563.00" y="331.80" width="116.30" height="107.70" fill="none" stroke="#555" stroke-width="1" />
<line x1="563.00" y1="343.70" x2="569.50" y2="343.70" stroke="#222" stroke-width="1" />
<line x1="563.00" y1="391.70" x2="569.50" y2="391.70" stroke="#222" stroke-width="1" />
<text x="559.0" y="348.09999999999997" font-size="12.7" fill="#111" text-anchor="end"  stroke="#111" stroke-width="0.32">4</text>
<text x="559.0" y="396.09999999999997" font-size="12.7" fill="#111" text-anchor="end"  stroke="#111" stroke-width="0.32">2</text>
<text x="559.0" y="443.9" font-size="12.7" fill="#111" text-anchor="end"  stroke="#111" stroke-width="0.32">0</text>
<text x='566.2' y='346.8' font-size='12.6' fill='#111' stroke="#111" stroke-width="0.32">(x10<tspan font-size='8.3' dy='-4.6'>-66</tspan><tspan dy='4.6'>)</tspan></text>
<text x="587.3" y="420.9" font-size="11.5" fill="#111" textLength="24.7" lengthAdjust="spacingAndGlyphs" stroke="#111" stroke-width="0.29">false</text>
<text x="568.3" y="435.1" font-size="11.5" fill="#111" textLength="43.7" lengthAdjust="spacingAndGlyphs" stroke="#111" stroke-width="0.29">negative</text>
<text x="623.3" y="420.9" font-size="11.5" fill="#111" textLength="24.7" lengthAdjust="spacingAndGlyphs" stroke="#111" stroke-width="0.29">false</text>
<text x="623.3" y="435.1" font-size="11.5" fill="#111" textLength="39.9" lengthAdjust="spacingAndGlyphs" stroke="#111" stroke-width="0.29">positive</text>
<text x="568.5" y="452.8" font-size="12.7" fill="#111" text-anchor="middle"  stroke="#111" stroke-width="0.32">0.186</text>
<text x="618.6" y="452.8" font-size="12.7" fill="#111" text-anchor="middle"  stroke="#111" stroke-width="0.32">0.189</text>
<text x="668.2" y="452.8" font-size="12.7" fill="#111" text-anchor="middle"  stroke="#111" stroke-width="0.32">0.192</text>
<text x="619.5" y="467.4" font-size="12.7" fill="#111" text-anchor="middle" textLength="105.1" lengthAdjust="spacingAndGlyphs" stroke="#111" stroke-width="0.32">Hamming distance</text>
<text x="210.4" y="489.3" font-size="14" fill="#000" font-weight="bold"  stroke="#000" stroke-width="0.35">E</text>
<rect x="253.30" y="489.90" width="115.50" height="114.30" fill="#eec02c" stroke="none" stroke-width="1" />
<rect x="253.3" y="489.9" width="115.5" height="114.30000000000007" filter="url(#hnoise)" opacity="0.25"/>
<line x1="253.30" y1="604.20" x2="368.80" y2="489.90" stroke="#a8902a" stroke-width="0.6" />
<rect x="253.30" y="489.90" width="115.50" height="114.30" fill="none" stroke="#6a6a6a" stroke-width="0.9" />
<line x1="253.30" y1="547.40" x2="258.30" y2="547.40" stroke="#222" stroke-width="1" />
<line x1="311.20" y1="604.20" x2="311.20" y2="599.20" stroke="#222" stroke-width="1" />
<text x="308.2" y="502.1" font-size="12.7" fill="#111" text-anchor="middle" textLength="48.2" lengthAdjust="spacingAndGlyphs" stroke="#111" stroke-width="0.32">inter-HD</text>
<rect x="335.20" y="584.40" width="15.50" height="12.00" fill="url(#cbar)" stroke="#111" stroke-width="0.9" />
<text x="322.9" y="595.5" font-size="12.5" fill="#111"  stroke="#111" stroke-width="0.31">0</text>
<text x="356.5" y="595.5" font-size="12.5" fill="#111"  stroke="#111" stroke-width="0.31">1</text>
<text x="248.5" y="499.4" font-size="12.5" fill="#111" text-anchor="end"  stroke="#111" stroke-width="0.31">500</text>
<text x="248.5" y="551.3" font-size="12.5" fill="#111" text-anchor="end"  stroke="#111" stroke-width="0.31">250</text>
<text x="248.5" y="604.3" font-size="12.5" fill="#111" text-anchor="end"  stroke="#111" stroke-width="0.31">1</text>
<text x="254.9" y="618.9" font-size="12.5" fill="#111" text-anchor="middle"  stroke="#111" stroke-width="0.31">1</text>
<text x="311.2" y="618.9" font-size="12.5" fill="#111" text-anchor="middle"  stroke="#111" stroke-width="0.31">250</text>
<text x="362.9" y="618.9" font-size="12.5" fill="#111" text-anchor="middle"  stroke="#111" stroke-width="0.31">500</text>
<text x="310.3" y="633.5" font-size="12.7" fill="#111" text-anchor="middle" textLength="95.2" lengthAdjust="spacingAndGlyphs" stroke="#111" stroke-width="0.32">PUF key number</text>
<text transform="translate(221.2 547.4) rotate(-90)" font-size="12.7" fill="#111" text-anchor="middle" textLength="95.2" lengthAdjust="spacingAndGlyphs" stroke="#111" stroke-width="0.32">PUF key number</text>
<text x="385.7" y="489.2" font-size="14" fill="#000" font-weight="bold"  stroke="#000" stroke-width="0.35">F</text>
<line x1="447.90" y1="584.72" x2="450.40" y2="584.72" stroke="#111" stroke-width="0.8" />
<line x1="447.90" y1="579.06" x2="450.40" y2="579.06" stroke="#111" stroke-width="0.8" />
<line x1="447.90" y1="575.04" x2="450.40" y2="575.04" stroke="#111" stroke-width="0.8" />
<line x1="447.90" y1="571.93" x2="450.40" y2="571.93" stroke="#111" stroke-width="0.8" />
<line x1="447.90" y1="569.38" x2="450.40" y2="569.38" stroke="#111" stroke-width="0.8" />
<line x1="447.90" y1="567.23" x2="450.40" y2="567.23" stroke="#111" stroke-width="0.8" />
<line x1="447.90" y1="565.37" x2="450.40" y2="565.37" stroke="#111" stroke-width="0.8" />
<line x1="447.90" y1="563.72" x2="450.40" y2="563.72" stroke="#111" stroke-width="0.8" />
<line x1="447.90" y1="594.40" x2="452.90" y2="594.40" stroke="#111" stroke-width="1" />
<line x1="447.90" y1="552.57" x2="450.40" y2="552.57" stroke="#111" stroke-width="0.8" />
<line x1="447.90" y1="546.91" x2="450.40" y2="546.91" stroke="#111" stroke-width="0.8" />
<line x1="447.90" y1="542.89" x2="450.40" y2="542.89" stroke="#111" stroke-width="0.8" />
<line x1="447.90" y1="539.78" x2="450.40" y2="539.78" stroke="#111" stroke-width="0.8" />
<line x1="447.90" y1="537.23" x2="450.40" y2="537.23" stroke="#111" stroke-width="0.8" />
<line x1="447.90" y1="535.08" x2="450.40" y2="535.08" stroke="#111" stroke-width="0.8" />
<line x1="447.90" y1="533.22" x2="450.40" y2="533.22" stroke="#111" stroke-width="0.8" />
<line x1="447.90" y1="531.57" x2="450.40" y2="531.57" stroke="#111" stroke-width="0.8" />
<line x1="447.90" y1="562.25" x2="452.90" y2="562.25" stroke="#111" stroke-width="1" />
<line x1="447.90" y1="520.42" x2="450.40" y2="520.42" stroke="#111" stroke-width="0.8" />
<line x1="447.90" y1="514.76" x2="450.40" y2="514.76" stroke="#111" stroke-width="0.8" />
<line x1="447.90" y1="510.74" x2="450.40" y2="510.74" stroke="#111" stroke-width="0.8" />
<line x1="447.90" y1="507.63" x2="450.40" y2="507.63" stroke="#111" stroke-width="0.8" />
<line x1="447.90" y1="505.08" x2="450.40" y2="505.08" stroke="#111" stroke-width="0.8" />
<line x1="447.90" y1="502.93" x2="450.40" y2="502.93" stroke="#111" stroke-width="0.8" />
<line x1="447.90" y1="501.07" x2="450.40" y2="501.07" stroke="#111" stroke-width="0.8" />
<line x1="447.90" y1="499.42" x2="450.40" y2="499.42" stroke="#111" stroke-width="0.8" />
<line x1="447.90" y1="530.10" x2="452.90" y2="530.10" stroke="#111" stroke-width="1" />
<line x1="447.90" y1="497.95" x2="452.90" y2="497.95" stroke="#111" stroke-width="1" />
<line x1="453.33" y1="604.30" x2="453.33" y2="601.80" stroke="#111" stroke-width="0.8" />
<line x1="458.51" y1="604.30" x2="458.51" y2="601.80" stroke="#111" stroke-width="0.8" />
<line x1="463.00" y1="604.30" x2="463.00" y2="601.80" stroke="#111" stroke-width="0.8" />
<line x1="466.96" y1="604.30" x2="466.96" y2="601.80" stroke="#111" stroke-width="0.8" />
<line x1="470.50" y1="604.30" x2="470.50" y2="599.30" stroke="#111" stroke-width="1" />
<line x1="493.80" y1="604.30" x2="493.80" y2="601.80" stroke="#111" stroke-width="0.8" />
<line x1="507.43" y1="604.30" x2="507.43" y2="601.80" stroke="#111" stroke-width="0.8" />
<line x1="517.10" y1="604.30" x2="517.10" y2="601.80" stroke="#111" stroke-width="0.8" />
<line x1="524.60" y1="604.30" x2="524.60" y2="601.80" stroke="#111" stroke-width="0.8" />
<line x1="530.73" y1="604.30" x2="530.73" y2="601.80" stroke="#111" stroke-width="0.8" />
<line x1="535.91" y1="604.30" x2="535.91" y2="601.80" stroke="#111" stroke-width="0.8" />
<line x1="540.40" y1="604.30" x2="540.40" y2="601.80" stroke="#111" stroke-width="0.8" />
<line x1="544.36" y1="604.30" x2="544.36" y2="601.80" stroke="#111" stroke-width="0.8" />
<line x1="547.90" y1="604.30" x2="547.90" y2="599.30" stroke="#111" stroke-width="1" />
<line x1="571.20" y1="604.30" x2="571.20" y2="601.80" stroke="#111" stroke-width="0.8" />
<line x1="584.83" y1="604.30" x2="584.83" y2="601.80" stroke="#111" stroke-width="0.8" />
<line x1="594.50" y1="604.30" x2="594.50" y2="601.80" stroke="#111" stroke-width="0.8" />
<line x1="602.00" y1="604.30" x2="602.00" y2="601.80" stroke="#111" stroke-width="0.8" />
<line x1="608.13" y1="604.30" x2="608.13" y2="601.80" stroke="#111" stroke-width="0.8" />
<line x1="613.31" y1="604.30" x2="613.31" y2="601.80" stroke="#111" stroke-width="0.8" />
<line x1="617.80" y1="604.30" x2="617.80" y2="601.80" stroke="#111" stroke-width="0.8" />
<line x1="621.76" y1="604.30" x2="621.76" y2="601.80" stroke="#111" stroke-width="0.8" />
<line x1="625.30" y1="604.30" x2="625.30" y2="599.30" stroke="#111" stroke-width="1" />
<line x1="648.60" y1="604.30" x2="648.60" y2="601.80" stroke="#111" stroke-width="0.8" />
<line x1="662.23" y1="604.30" x2="662.23" y2="601.80" stroke="#111" stroke-width="0.8" />
<line x1="671.90" y1="604.30" x2="671.90" y2="601.80" stroke="#111" stroke-width="0.8" />
<rect x="447.90" y="488.20" width="231.60" height="116.10" fill="none" stroke="#111" stroke-width="1" />
<text x='432.4' y='601.7' font-size='12.5' fill='#111' text-anchor='end' stroke="#111" stroke-width="0.31">10</text>
<text x='432.6' y='597.6' font-size='8.3' fill='#111' stroke="#111" stroke-width="0.21">1K</text>
<text x='432.4' y='569.5' font-size='12.5' fill='#111' text-anchor='end' stroke="#111" stroke-width="0.31">10</text>
<text x='432.6' y='565.5' font-size='8.3' fill='#111' stroke="#111" stroke-width="0.21">2K</text>
<text x='432.4' y='537.4' font-size='12.5' fill='#111' text-anchor='end' stroke="#111" stroke-width="0.31">10</text>
<text x='432.6' y='533.3' font-size='8.3' fill='#111' stroke="#111" stroke-width="0.21">3K</text>
<text x='432.4' y='505.2' font-size='12.5' fill='#111' text-anchor='end' stroke="#111" stroke-width="0.31">10</text>
<text x='432.6' y='501.1' font-size='8.3' fill='#111' stroke="#111" stroke-width="0.21">4K</text>
<text x="471.0" y="619.7" font-size="12.6" fill="#111" text-anchor="middle" textLength="27.5" lengthAdjust="spacingAndGlyphs" stroke="#111" stroke-width="0.32">0.1K</text>
<text x="547.3" y="619.7" font-size="12.6" fill="#111" text-anchor="middle" textLength="15.8" lengthAdjust="spacingAndGlyphs" stroke="#111" stroke-width="0.32">1K</text>
<text x="624.3" y="619.7" font-size="12.6" fill="#111" text-anchor="middle" textLength="23.3" lengthAdjust="spacingAndGlyphs" stroke="#111" stroke-width="0.32">10K</text>
<text x="558.9" y="634.0" font-size="12.7" fill="#111" text-anchor="middle" textLength="87.6" lengthAdjust="spacingAndGlyphs" stroke="#111" stroke-width="0.32">Bit number (bit)</text>
<text transform="translate(391.7 550.6) rotate(-90)" font-size="12.6" fill="#111" text-anchor="middle" textLength="108.5" lengthAdjust="spacingAndGlyphs" stroke="#111" stroke-width="0.32">Physical decryption</text>
<text transform="translate(408.3 552.5) rotate(-90)" font-size="12.5" fill="#111" text-anchor="middle" textLength="59.5" lengthAdjust="spacingAndGlyphs" stroke="#111" stroke-width="0.31">time (year)</text>
<circle cx="461.8" cy="499.6" r="2.8" fill="none" stroke="#ee5a3a" stroke-width="0.9"/>
<text x="470.6" y="502.9" font-size="11.6" fill="#111" textLength="50.4" lengthAdjust="spacingAndGlyphs" stroke="#111" stroke-width="0.29">coloration</text>
<rect x="459.20" y="510.40" width="5.2" height="5.2" fill="none" stroke="#3a8a4a" stroke-width="0.9"/>
<text x="470.6" y="516.3" font-size="11.6" fill="#111" textLength="71.0" lengthAdjust="spacingAndGlyphs" stroke="#111" stroke-width="0.29">luminescence</text>
<path d="M461.8 523.20 L464.84 528.48 L458.76 528.48 Z" fill="none" stroke="#2222e8" stroke-width="1.1"/>
<text x="470.6" y="529.8" font-size="11.6" fill="#111" textLength="55.6" lengthAdjust="spacingAndGlyphs" stroke="#111" stroke-width="0.29">electronics</text>
<path d="M448.6 597.10 L451.83 602.71 L445.37 602.71 Z" fill="none" stroke="#2222e8" stroke-width="1.1"/>
<path d="M456.2 589.00 L459.43 594.61 L452.97 594.61 Z" fill="none" stroke="#2222e8" stroke-width="1.1"/>
<circle cx="466.0" cy="586.5" r="3.0" fill="none" stroke="#ee5a3a" stroke-width="0.9"/>
<circle cx="471.5" cy="583.6" r="3.0" fill="none" stroke="#ee5a3a" stroke-width="0.9"/>
<rect x="469.30" y="580.90" width="5.0" height="5.0" fill="none" stroke="#8a5040" stroke-width="0.9"/>
<circle cx="483.5" cy="577.1" r="3.0" fill="none" stroke="#ee5a3a" stroke-width="0.9"/>
<circle cx="502.0" cy="567.3" r="3.0" fill="none" stroke="#ee5a3a" stroke-width="0.9"/>
<path d="M502.0 563.60 L505.23 569.21 L498.77 569.21 Z" fill="none" stroke="#2222e8" stroke-width="1.1"/>
<rect x="514.90" y="558.10" width="5.4" height="5.4" fill="none" stroke="#3a8a4a" stroke-width="0.9"/>
<circle cx="537.7" cy="552.5" r="3.0" fill="none" stroke="#ee5a3a" stroke-width="0.9"/>
<rect x="538.00" y="547.90" width="5.4" height="5.4" fill="none" stroke="#3a8a4a" stroke-width="0.9"/>
<circle cx="549.1" cy="546.1" r="3.0" fill="none" stroke="#ee5a3a" stroke-width="0.9"/>
<path d="M549.1 542.50 L552.33 548.11 L545.87 548.11 Z" fill="none" stroke="#2222e8" stroke-width="1.1"/>
<line x1="579.2" y1="534.3" x2="653.1" y2="503.6" stroke="url(#band)" stroke-width="8.5" opacity="0.95"/>
<rect x="580.60" y="530.60" width="4.4" height="4.4" fill="none" stroke="#b06040" stroke-width="0.9"/>
<circle cx="599.2" cy="525.5" r="2.9" fill="none" stroke="#f04a3a" stroke-width="0.9"/>
<line x1="580.00" y1="537.50" x2="582.80" y2="549.80" stroke="#555" stroke-width="0.7" />
<line x1="624.80" y1="518.00" x2="619.30" y2="549.80" stroke="#555" stroke-width="0.7" />
<line x1="653.30" y1="507.00" x2="656.40" y2="550.70" stroke="#555" stroke-width="0.7" />
<circle cx="579.2" cy="534.3" r="3.6" fill="#f03a1a" stroke="#a02010" stroke-width="0.6"/>
<circle cx="625.3" cy="514.7" r="3.6" fill="#d81818" stroke="#801010" stroke-width="0.6"/>
<circle cx="653.1" cy="503.6" r="3.6" fill="#8b0a0a" stroke="#500505" stroke-width="0.6"/>
<text transform="translate(597.4 517.8) rotate(-24.7)" font-size="13" fill="#e02020" textLength="52.3" lengthAdjust="spacingAndGlyphs" stroke="#e02020" stroke-width="0.33">this work</text>
<text x="568.2" y="559.5" font-size="9.0" fill="#f04a2a" textLength="24.6" lengthAdjust="spacingAndGlyphs" stroke="#f04a2a" stroke-width="0.23">50x50</text>
<text x="600.5" y="559.5" font-size="9.0" fill="#d02020" textLength="34.3" lengthAdjust="spacingAndGlyphs" stroke="#d02020" stroke-width="0.23">100x100</text>
<text x="641.2" y="559.5" font-size="9.0" fill="#8b1a1a" textLength="34.1" lengthAdjust="spacingAndGlyphs" stroke="#8b1a1a" stroke-width="0.23">150x150</text>
<rect x="524.50" y="563.40" width="33.80" height="33.70" fill="#b96a30" stroke="#8b3a1a" stroke-width="0.8" />
<rect x="525" y="564" width="33" height="33" filter="url(#inoise)" opacity="0.35"/>
<rect x="530.60" y="569.80" width="21.20" height="21.00" fill="none" stroke="#e8381a" stroke-width="1.4" />
<rect x="535.80" y="575.40" width="10.80" height="10.40" fill="none" stroke="#ff5a30" stroke-width="1.1" />
<rect x="526.10" y="592.60" width="15.00" height="2.00" fill="#000" stroke="none" stroke-width="1" />
<path d="M559 575.8 L563.4 580.2 L559 584.6 Z" fill="#8a8a8a" stroke="none" stroke-width="1" />
<text x="486.2" y="597.9" font-size="12.6" fill="#111" textLength="35.1" lengthAdjust="spacingAndGlyphs" stroke="#111" stroke-width="0.32">50 μm</text>
<rect x="563.3" y="563.1" width="35.4" height="34.7" filter="url(#fn21)"/>
<rect x="563.90" y="563.70" width="34.20" height="33.50" fill="none" stroke="#f0502a" stroke-width="1.2" />
<rect x="602.3" y="563.1" width="35.4" height="34.7" filter="url(#fn22)"/>
<rect x="602.90" y="563.70" width="34.20" height="33.50" fill="none" stroke="#e03020" stroke-width="1.2" />
<rect x="641.2" y="563.1" width="35.4" height="34.7" filter="url(#fn23)"/>
<rect x="641.80" y="563.70" width="34.20" height="33.50" fill="none" stroke="#9b1b1b" stroke-width="1.2" />
<text x="208.5" y="666.3" font-size="14" fill="#000" font-weight="bold"  stroke="#000" stroke-width="0.35">G</text>
<rect x="254.00" y="654.30" width="115.50" height="38.20" fill="#d0701f" stroke="none" stroke-width="1" />
<rect x="254.0" y="654.3" width="115.5" height="38.200000000000045" filter="url(#gnoise)" opacity="0.45"/>
<rect x="254.0" y="654.3" width="115.5" height="38.200000000000045" filter="url(#gnoise2)" opacity="0.35"/>
<line x1="291.20" y1="654.30" x2="291.20" y2="692.50" stroke="#2a1a10" stroke-width="1.1" />
<line x1="330.00" y1="654.30" x2="330.00" y2="692.50" stroke="#2a1a10" stroke-width="1.1" />
<text x="272.7" y="690.4" font-size="9.6" fill="#111" text-anchor="middle" textLength="29.4" lengthAdjust="spacingAndGlyphs" stroke="#111" stroke-width="0.24">22.5°C</text>
<text x="311.0" y="690.4" font-size="9.6" fill="#111" text-anchor="middle" textLength="29.6" lengthAdjust="spacingAndGlyphs" stroke="#111" stroke-width="0.24">35.0°C</text>
<text x="348.8" y="690.4" font-size="9.6" fill="#111" text-anchor="middle" textLength="29.6" lengthAdjust="spacingAndGlyphs" stroke="#111" stroke-width="0.24">50.0°C</text>
<line x1="254.00" y1="692.50" x2="369.50" y2="692.50" stroke="#3a2a1a" stroke-width="0.6" />
<line x1="256.00" y1="737.40" x2="371.00" y2="737.40" stroke="#111" stroke-width="1.6" stroke-dasharray="1.6 1.6"/>
<rect x="254.00" y="654.30" width="115.50" height="100.70" fill="none" stroke="#111" stroke-width="1.1" />
<line x1="254.00" y1="751.00" x2="258.50" y2="751.00" stroke="#111" stroke-width="1" />
<line x1="254.00" y1="726.75" x2="258.50" y2="726.75" stroke="#111" stroke-width="1" />
<line x1="254.00" y1="702.50" x2="258.50" y2="702.50" stroke="#111" stroke-width="1" />
<line x1="254.00" y1="678.25" x2="258.50" y2="678.25" stroke="#111" stroke-width="1" />
<line x1="287.33" y1="755.00" x2="287.33" y2="750.50" stroke="#111" stroke-width="1" />
<line x1="320.67" y1="755.00" x2="320.67" y2="750.50" stroke="#111" stroke-width="1" />
<line x1="354.00" y1="755.00" x2="354.00" y2="750.50" stroke="#111" stroke-width="1" />
<text x="248.7" y="660.2" font-size="12.6" fill="#111" text-anchor="end"  stroke="#111" stroke-width="0.32">1</text>
<text x="247.0" y="707.8" font-size="12.6" fill="#111" text-anchor="end"  stroke="#111" stroke-width="0.32">0.5</text>
<text x="249.2" y="755.3" font-size="12.6" fill="#111" text-anchor="end"  stroke="#111" stroke-width="0.32">0</text>
<text x="254.0" y="768.9" font-size="12.6" fill="#111" text-anchor="middle"  stroke="#111" stroke-width="0.32">20</text>
<text x="287.3333333333333" y="768.9" font-size="12.6" fill="#111" text-anchor="middle"  stroke="#111" stroke-width="0.32">30</text>
<text x="320.6666666666667" y="768.9" font-size="12.6" fill="#111" text-anchor="middle"  stroke="#111" stroke-width="0.32">40</text>
<text x="354.0" y="768.9" font-size="12.6" fill="#111" text-anchor="middle"  stroke="#111" stroke-width="0.32">50</text>
<text x="312.25" y="783.3" font-size="12.6" fill="#111" text-anchor="middle" textLength="96.6" lengthAdjust="spacingAndGlyphs" stroke="#111" stroke-width="0.32">Temperature (°C)</text>
<text x="313.55" y="706.0" font-size="12.6" fill="#111" text-anchor="middle" textLength="78.0" lengthAdjust="spacingAndGlyphs" stroke="#111" stroke-width="0.32">(temperature)</text>
<circle cx="262.21" cy="750.80" r="1.75" fill="#3d8a5a" opacity="0.92"/>
<circle cx="263.31" cy="745.40" r="1.75" fill="#3d8a5a" opacity="0.92"/>
<circle cx="265.51" cy="744.70" r="1.75" fill="#3d8a5a" opacity="0.92"/>
<circle cx="267.71" cy="744.30" r="1.75" fill="#3d8a5a" opacity="0.92"/>
<circle cx="269.92" cy="743.60" r="1.75" fill="#3d8a5a" opacity="0.92"/>
<circle cx="272.12" cy="744.90" r="1.75" fill="#3d8a5a" opacity="0.92"/>
<circle cx="274.32" cy="746.50" r="1.75" fill="#3d8a5a" opacity="0.92"/>
<circle cx="276.52" cy="745.40" r="1.75" fill="#3d8a5a" opacity="0.92"/>
<circle cx="278.62" cy="742.10" r="1.75" fill="#3d8a5a" opacity="0.92"/>
<circle cx="280.83" cy="741.40" r="1.75" fill="#3d8a5a" opacity="0.92"/>
<circle cx="283.03" cy="741.60" r="1.75" fill="#3d8a5a" opacity="0.92"/>
<circle cx="286.33" cy="740.50" r="1.75" fill="#3d8a5a" opacity="0.92"/>
<circle cx="289.64" cy="741.00" r="1.75" fill="#3d8a5a" opacity="0.92"/>
<circle cx="292.94" cy="740.50" r="1.75" fill="#3d8a5a" opacity="0.92"/>
<circle cx="296.24" cy="741.40" r="1.75" fill="#3d8a5a" opacity="0.92"/>
<circle cx="299.45" cy="741.00" r="1.75" fill="#3d8a5a" opacity="0.92"/>
<circle cx="302.75" cy="739.90" r="1.75" fill="#3d8a5a" opacity="0.92"/>
<circle cx="306.05" cy="741.40" r="1.75" fill="#3d8a5a" opacity="0.92"/>
<circle cx="309.36" cy="740.50" r="1.75" fill="#3d8a5a" opacity="0.92"/>
<circle cx="312.66" cy="741.00" r="1.75" fill="#3d8a5a" opacity="0.92"/>
<circle cx="315.96" cy="740.30" r="1.75" fill="#3d8a5a" opacity="0.92"/>
<circle cx="321.37" cy="741.40" r="1.75" fill="#3d8a5a" opacity="0.92"/>
<circle cx="323.57" cy="741.00" r="1.75" fill="#3d8a5a" opacity="0.92"/>
<circle cx="325.77" cy="739.90" r="1.75" fill="#3d8a5a" opacity="0.92"/>
<circle cx="327.97" cy="741.00" r="1.75" fill="#3d8a5a" opacity="0.92"/>
<circle cx="331.28" cy="741.40" r="1.75" fill="#3d8a5a" opacity="0.92"/>
<circle cx="334.58" cy="740.50" r="1.75" fill="#3d8a5a" opacity="0.92"/>
<circle cx="337.88" cy="741.00" r="1.75" fill="#3d8a5a" opacity="0.92"/>
<circle cx="341.09" cy="741.00" r="1.75" fill="#3d8a5a" opacity="0.92"/>
<circle cx="344.39" cy="741.40" r="1.75" fill="#3d8a5a" opacity="0.92"/>
<circle cx="347.69" cy="740.50" r="1.75" fill="#3d8a5a" opacity="0.92"/>
<circle cx="351.00" cy="741.40" r="1.75" fill="#3d8a5a" opacity="0.92"/>
<circle cx="354.30" cy="740.30" r="1.75" fill="#3d8a5a" opacity="0.92"/>
<circle cx="355.80" cy="739.90" r="1.75" fill="#3d8a5a" opacity="0.92"/>
<text x="329.9" y="669.1" font-size="12.2" fill="#111" textLength="34.4" lengthAdjust="spacingAndGlyphs" stroke="#111" stroke-width="0.30">10 μm</text>
<rect x="352.00" y="657.70" width="12.30" height="2.10" fill="#000" stroke="none" stroke-width="1" />
<text transform="translate(221.2 703) rotate(-90)" font-size="12.6" fill="#111" text-anchor="middle" stroke="#111" stroke-width="0.32">HD</text>
<rect x="406.90" y="654.30" width="114.90" height="38.20" fill="#d0701f" stroke="none" stroke-width="1" />
<rect x="406.9" y="654.3" width="114.89999999999998" height="38.200000000000045" filter="url(#gnoise)" opacity="0.45"/>
<rect x="406.9" y="654.3" width="114.89999999999998" height="38.200000000000045" filter="url(#gnoise2)" opacity="0.35"/>
<line x1="445.20" y1="654.30" x2="445.20" y2="692.50" stroke="#2a1a10" stroke-width="1.1" />
<line x1="483.50" y1="654.30" x2="483.50" y2="692.50" stroke="#2a1a10" stroke-width="1.1" />
<text x="426.54999999999995" y="690.4" font-size="9.6" fill="#111" text-anchor="middle" textLength="19.4" lengthAdjust="spacingAndGlyphs" stroke="#111" stroke-width="0.24">38%</text>
<text x="464.84999999999997" y="690.4" font-size="9.6" fill="#111" text-anchor="middle" textLength="19.4" lengthAdjust="spacingAndGlyphs" stroke="#111" stroke-width="0.24">55%</text>
<text x="503.1499999999999" y="690.4" font-size="9.6" fill="#111" text-anchor="middle" textLength="28.8" lengthAdjust="spacingAndGlyphs" stroke="#111" stroke-width="0.24">70.8%</text>
<line x1="406.90" y1="692.50" x2="521.80" y2="692.50" stroke="#3a2a1a" stroke-width="0.6" />
<line x1="408.90" y1="737.40" x2="523.30" y2="737.40" stroke="#111" stroke-width="1.6" stroke-dasharray="1.6 1.6"/>
<rect x="406.90" y="654.30" width="114.90" height="100.70" fill="none" stroke="#111" stroke-width="1.1" />
<line x1="406.90" y1="751.00" x2="411.40" y2="751.00" stroke="#111" stroke-width="1" />
<line x1="406.90" y1="726.75" x2="411.40" y2="726.75" stroke="#111" stroke-width="1" />
<line x1="406.90" y1="702.50" x2="411.40" y2="702.50" stroke="#111" stroke-width="1" />
<line x1="406.90" y1="678.25" x2="411.40" y2="678.25" stroke="#111" stroke-width="1" />
<line x1="435.62" y1="755.00" x2="435.62" y2="750.50" stroke="#111" stroke-width="1" />
<line x1="464.35" y1="755.00" x2="464.35" y2="750.50" stroke="#111" stroke-width="1" />
<line x1="493.07" y1="755.00" x2="493.07" y2="750.50" stroke="#111" stroke-width="1" />
<text x="401.59999999999997" y="660.2" font-size="12.6" fill="#111" text-anchor="end"  stroke="#111" stroke-width="0.32">1</text>
<text x="399.9" y="707.8" font-size="12.6" fill="#111" text-anchor="end"  stroke="#111" stroke-width="0.32">0.5</text>
<text x="402.09999999999997" y="755.3" font-size="12.6" fill="#111" text-anchor="end"  stroke="#111" stroke-width="0.32">0</text>
<text x="406.9" y="768.9" font-size="12.6" fill="#111" text-anchor="middle"  stroke="#111" stroke-width="0.32">35</text>
<text x="435.625" y="768.9" font-size="12.6" fill="#111" text-anchor="middle"  stroke="#111" stroke-width="0.32">45</text>
<text x="464.34999999999997" y="768.9" font-size="12.6" fill="#111" text-anchor="middle"  stroke="#111" stroke-width="0.32">55</text>
<text x="493.07499999999993" y="768.9" font-size="12.6" fill="#111" text-anchor="middle"  stroke="#111" stroke-width="0.32">65</text>
<text x="521.8" y="768.9" font-size="12.6" fill="#111" text-anchor="middle"  stroke="#111" stroke-width="0.32">75</text>
<text x="467.0" y="783.3" font-size="12.6" fill="#111" text-anchor="middle" textLength="120.0" lengthAdjust="spacingAndGlyphs" stroke="#111" stroke-width="0.32">Relative humidity (%)</text>
<text x="466.15" y="706.0" font-size="12.6" fill="#111" text-anchor="middle" textLength="56.0" lengthAdjust="spacingAndGlyphs" stroke="#111" stroke-width="0.32">(humidity)</text>
<circle cx="415.20" cy="750.40" r="1.75" fill="#3d8a5a" opacity="0.92"/>
<circle cx="416.50" cy="748.00" r="1.75" fill="#3d8a5a" opacity="0.92"/>
<circle cx="418.00" cy="746.50" r="1.75" fill="#3d8a5a" opacity="0.92"/>
<circle cx="420.00" cy="747.00" r="1.75" fill="#3d8a5a" opacity="0.92"/>
<circle cx="422.00" cy="748.00" r="1.75" fill="#3d8a5a" opacity="0.92"/>
<circle cx="424.00" cy="747.00" r="1.75" fill="#3d8a5a" opacity="0.92"/>
<circle cx="425.00" cy="744.00" r="1.75" fill="#3d8a5a" opacity="0.92"/>
<circle cx="427.00" cy="742.50" r="1.75" fill="#3d8a5a" opacity="0.92"/>
<circle cx="429.00" cy="742.00" r="1.75" fill="#3d8a5a" opacity="0.92"/>
<circle cx="431.00" cy="743.00" r="1.75" fill="#3d8a5a" opacity="0.92"/>
<circle cx="433.00" cy="742.00" r="1.75" fill="#3d8a5a" opacity="0.92"/>
<circle cx="436.00" cy="743.00" r="1.75" fill="#3d8a5a" opacity="0.92"/>
<circle cx="440.00" cy="742.00" r="1.75" fill="#3d8a5a" opacity="0.92"/>
<circle cx="443.00" cy="741.00" r="1.75" fill="#3d8a5a" opacity="0.92"/>
<circle cx="447.00" cy="741.00" r="1.75" fill="#3d8a5a" opacity="0.92"/>
<circle cx="450.00" cy="742.00" r="1.75" fill="#3d8a5a" opacity="0.92"/>
<circle cx="453.00" cy="742.00" r="1.75" fill="#3d8a5a" opacity="0.92"/>
<circle cx="456.00" cy="743.00" r="1.75" fill="#3d8a5a" opacity="0.92"/>
<circle cx="458.00" cy="743.50" r="1.75" fill="#3d8a5a" opacity="0.92"/>
<circle cx="461.00" cy="742.00" r="1.75" fill="#3d8a5a" opacity="0.92"/>
<circle cx="464.00" cy="741.00" r="1.75" fill="#3d8a5a" opacity="0.92"/>
<circle cx="467.00" cy="742.00" r="1.75" fill="#3d8a5a" opacity="0.92"/>
<circle cx="469.00" cy="743.00" r="1.75" fill="#3d8a5a" opacity="0.92"/>
<circle cx="475.00" cy="742.00" r="1.75" fill="#3d8a5a" opacity="0.92"/>
<circle cx="477.00" cy="742.00" r="1.75" fill="#3d8a5a" opacity="0.92"/>
<circle cx="481.00" cy="742.00" r="1.75" fill="#3d8a5a" opacity="0.92"/>
<circle cx="483.00" cy="743.00" r="1.75" fill="#3d8a5a" opacity="0.92"/>
<circle cx="487.00" cy="740.50" r="1.75" fill="#3d8a5a" opacity="0.92"/>
<circle cx="490.00" cy="742.00" r="1.75" fill="#3d8a5a" opacity="0.92"/>
<circle cx="496.00" cy="742.00" r="1.75" fill="#3d8a5a" opacity="0.92"/>
<circle cx="502.00" cy="741.50" r="1.75" fill="#3d8a5a" opacity="0.92"/>
<circle cx="505.00" cy="742.50" r="1.75" fill="#3d8a5a" opacity="0.92"/>
<circle cx="510.00" cy="739.50" r="1.75" fill="#3d8a5a" opacity="0.92"/>
<rect x="562.40" y="654.30" width="116.00" height="38.20" fill="#d0701f" stroke="none" stroke-width="1" />
<rect x="562.4" y="654.3" width="116.0" height="38.200000000000045" filter="url(#gnoise)" opacity="0.45"/>
<rect x="562.4" y="654.3" width="116.0" height="38.200000000000045" filter="url(#gnoise2)" opacity="0.35"/>
<line x1="601.07" y1="654.30" x2="601.07" y2="692.50" stroke="#2a1a10" stroke-width="1.1" />
<line x1="639.73" y1="654.30" x2="639.73" y2="692.50" stroke="#2a1a10" stroke-width="1.1" />
<text x="582.2333333333333" y="690.4" font-size="9.6" fill="#111" text-anchor="middle" textLength="24.2" lengthAdjust="spacingAndGlyphs" stroke="#111" stroke-width="0.24">day 1</text>
<text x="620.9" y="690.4" font-size="9.6" fill="#111" text-anchor="middle" textLength="31.4" lengthAdjust="spacingAndGlyphs" stroke="#111" stroke-width="0.24">day 28</text>
<text x="659.5666666666667" y="690.4" font-size="9.6" fill="#111" text-anchor="middle" textLength="31.4" lengthAdjust="spacingAndGlyphs" stroke="#111" stroke-width="0.24">day 60</text>
<line x1="562.40" y1="692.50" x2="678.40" y2="692.50" stroke="#3a2a1a" stroke-width="0.6" />
<line x1="564.40" y1="737.40" x2="679.90" y2="737.40" stroke="#111" stroke-width="1.6" stroke-dasharray="1.6 1.6"/>
<rect x="562.40" y="654.30" width="116.00" height="100.70" fill="none" stroke="#111" stroke-width="1.1" />
<line x1="562.40" y1="751.00" x2="566.90" y2="751.00" stroke="#111" stroke-width="1" />
<line x1="562.40" y1="726.75" x2="566.90" y2="726.75" stroke="#111" stroke-width="1" />
<line x1="562.40" y1="702.50" x2="566.90" y2="702.50" stroke="#111" stroke-width="1" />
<line x1="562.40" y1="678.25" x2="566.90" y2="678.25" stroke="#111" stroke-width="1" />
<line x1="601.07" y1="755.00" x2="601.07" y2="750.50" stroke="#111" stroke-width="1" />
<line x1="639.73" y1="755.00" x2="639.73" y2="750.50" stroke="#111" stroke-width="1" />
<text x="557.1" y="660.2" font-size="12.6" fill="#111" text-anchor="end"  stroke="#111" stroke-width="0.32">1</text>
<text x="555.4" y="707.8" font-size="12.6" fill="#111" text-anchor="end"  stroke="#111" stroke-width="0.32">0.5</text>
<text x="557.6" y="755.3" font-size="12.6" fill="#111" text-anchor="end"  stroke="#111" stroke-width="0.32">0</text>
<text x="562.4" y="768.9" font-size="12.6" fill="#111" text-anchor="middle"  stroke="#111" stroke-width="0.32">0</text>
<text x="601.8" y="768.9" font-size="12.6" fill="#111" text-anchor="middle"  stroke="#111" stroke-width="0.32">20</text>
<text x="639.7" y="768.9" font-size="12.6" fill="#111" text-anchor="middle"  stroke="#111" stroke-width="0.32">40</text>
<text x="675.4" y="768.9" font-size="12.6" fill="#111" text-anchor="middle"  stroke="#111" stroke-width="0.32">60</text>
<text x="623.4" y="783.3" font-size="12.6" fill="#111" text-anchor="middle" textLength="21.6" lengthAdjust="spacingAndGlyphs" stroke="#111" stroke-width="0.32">Day</text>
<text x="622.1999999999999" y="706.0" font-size="12.6" fill="#111" text-anchor="middle" textLength="39.4" lengthAdjust="spacingAndGlyphs" stroke="#111" stroke-width="0.32">(aging)</text>
<circle cx="563.50" cy="750.40" r="1.75" fill="#3d8a5a" opacity="0.92"/>
<circle cx="565.00" cy="749.50" r="1.75" fill="#3d8a5a" opacity="0.92"/>
<circle cx="567.00" cy="749.00" r="1.75" fill="#3d8a5a" opacity="0.92"/>
<circle cx="569.00" cy="748.50" r="1.75" fill="#3d8a5a" opacity="0.92"/>
<circle cx="571.00" cy="748.50" r="1.75" fill="#3d8a5a" opacity="0.92"/>
<circle cx="573.00" cy="748.00" r="1.75" fill="#3d8a5a" opacity="0.92"/>
<circle cx="574.50" cy="747.50" r="1.75" fill="#3d8a5a" opacity="0.92"/>
<circle cx="576.00" cy="748.00" r="1.75" fill="#3d8a5a" opacity="0.92"/>
<circle cx="577.50" cy="749.00" r="1.75" fill="#3d8a5a" opacity="0.92"/>
<circle cx="589.50" cy="749.20" r="1.75" fill="#3d8a5a" opacity="0.92"/>
<circle cx="603.00" cy="749.20" r="1.75" fill="#3d8a5a" opacity="0.92"/>
<circle cx="616.70" cy="749.20" r="1.75" fill="#3d8a5a" opacity="0.92"/>
<circle cx="668.90" cy="748.20" r="1.75" fill="#3d8a5a" opacity="0.92"/>
</svg>
</body></html>
